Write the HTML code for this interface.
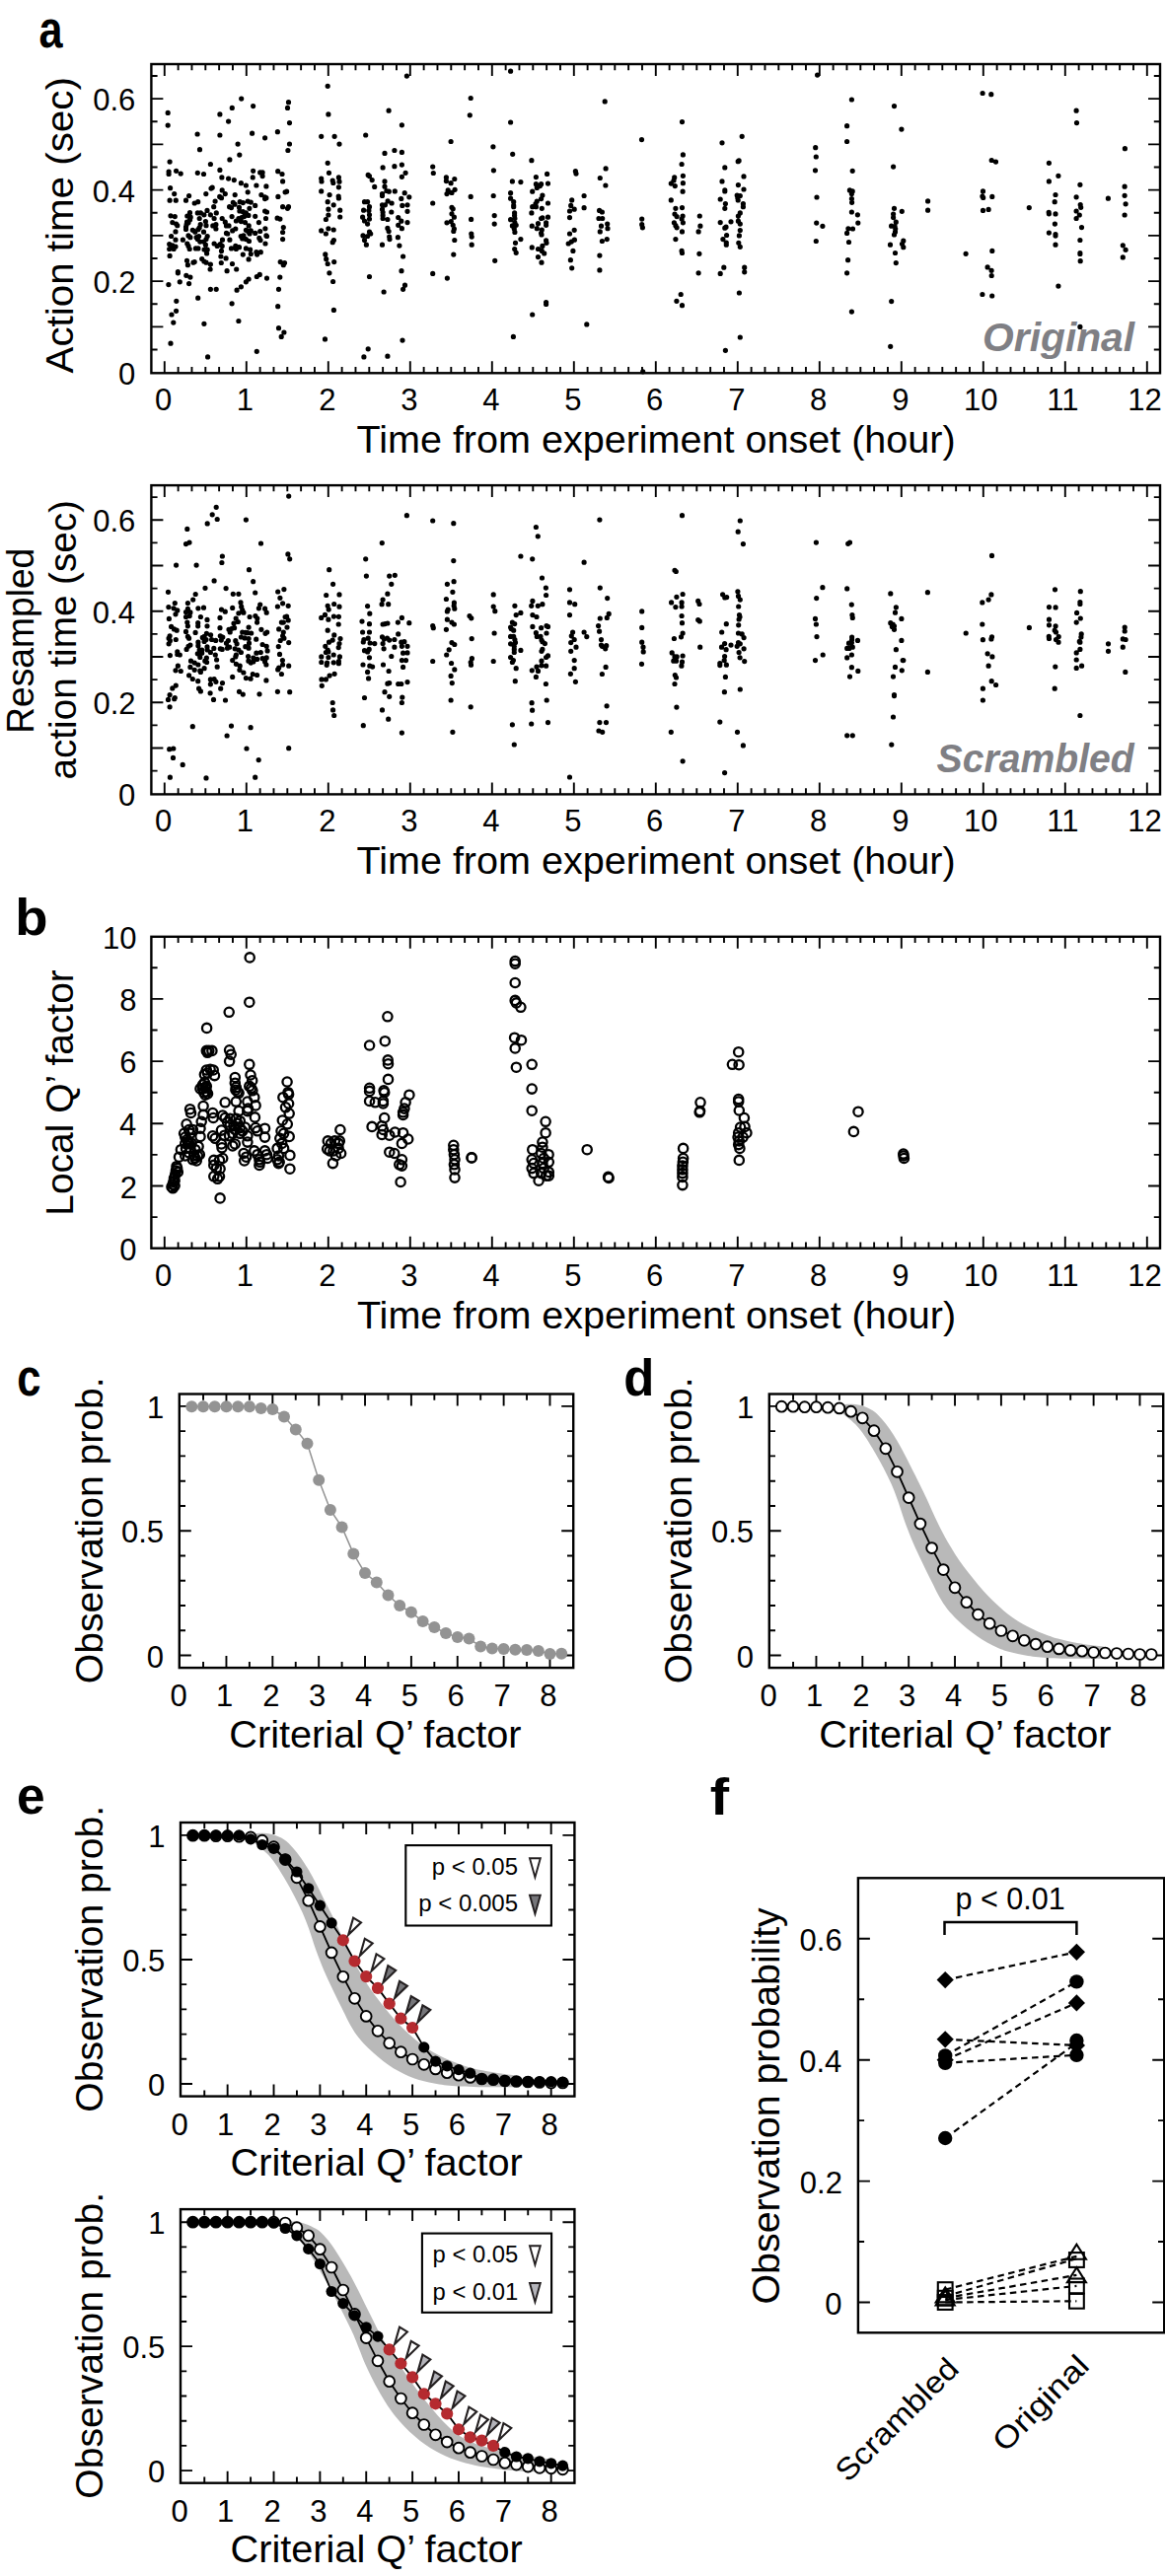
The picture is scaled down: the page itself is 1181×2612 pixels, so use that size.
<!DOCTYPE html><html><head><meta charset="utf-8"><style>html,body{margin:0;padding:0;background:#fff;}svg{display:block;font-family:"Liberation Sans",sans-serif;}</style></head><body>
<svg width="1181" height="2612" viewBox="0 0 1181 2612">
<rect width="1181" height="2612" fill="#fff"/>
<text transform="translate(39.6,48.3) scale(0.8368,1)" font-size="51.6" font-weight="bold" font-style="normal" fill="#000">a</text>
<rect x="153.4" y="65" width="1022.6" height="313.3" fill="none" stroke="#000" stroke-width="2.4"/>
<path d="M153.4 354.48h6.2M1176 354.48h-6.2M153.4 331.35h12M1176 331.35h-12M153.4 308.23h6.2M1176 308.23h-6.2M153.4 285.1h12M1176 285.1h-12M153.4 261.98h6.2M1176 261.98h-6.2M153.4 238.85h12M1176 238.85h-12M153.4 215.72h6.2M1176 215.72h-6.2M153.4 192.6h12M1176 192.6h-12M153.4 169.48h6.2M1176 169.48h-6.2M153.4 146.35h12M1176 146.35h-12M153.4 123.22h6.2M1176 123.22h-6.2M153.4 100.1h12M1176 100.1h-12M153.4 76.98h6.2M1176 76.98h-6.2" fill="none" stroke="#000" stroke-width="1.9"/>
<path d="M166.8 378.3v-12M166.8 65v12M180.63 378.3v-6.2M180.63 65v6.2M194.47 378.3v-6.2M194.47 65v6.2M208.3 378.3v-6.2M208.3 65v6.2M222.13 378.3v-6.2M222.13 65v6.2M235.97 378.3v-6.2M235.97 65v6.2M249.8 378.3v-12M249.8 65v12M263.63 378.3v-6.2M263.63 65v6.2M277.47 378.3v-6.2M277.47 65v6.2M291.3 378.3v-6.2M291.3 65v6.2M305.13 378.3v-6.2M305.13 65v6.2M318.97 378.3v-6.2M318.97 65v6.2M332.8 378.3v-12M332.8 65v12M346.63 378.3v-6.2M346.63 65v6.2M360.47 378.3v-6.2M360.47 65v6.2M374.3 378.3v-6.2M374.3 65v6.2M388.13 378.3v-6.2M388.13 65v6.2M401.97 378.3v-6.2M401.97 65v6.2M415.8 378.3v-12M415.8 65v12M429.63 378.3v-6.2M429.63 65v6.2M443.47 378.3v-6.2M443.47 65v6.2M457.3 378.3v-6.2M457.3 65v6.2M471.13 378.3v-6.2M471.13 65v6.2M484.97 378.3v-6.2M484.97 65v6.2M498.8 378.3v-12M498.8 65v12M512.63 378.3v-6.2M512.63 65v6.2M526.47 378.3v-6.2M526.47 65v6.2M540.3 378.3v-6.2M540.3 65v6.2M554.13 378.3v-6.2M554.13 65v6.2M567.97 378.3v-6.2M567.97 65v6.2M581.8 378.3v-12M581.8 65v12M595.63 378.3v-6.2M595.63 65v6.2M609.47 378.3v-6.2M609.47 65v6.2M623.3 378.3v-6.2M623.3 65v6.2M637.13 378.3v-6.2M637.13 65v6.2M650.97 378.3v-6.2M650.97 65v6.2M664.8 378.3v-12M664.8 65v12M678.63 378.3v-6.2M678.63 65v6.2M692.47 378.3v-6.2M692.47 65v6.2M706.3 378.3v-6.2M706.3 65v6.2M720.13 378.3v-6.2M720.13 65v6.2M733.97 378.3v-6.2M733.97 65v6.2M747.8 378.3v-12M747.8 65v12M761.63 378.3v-6.2M761.63 65v6.2M775.47 378.3v-6.2M775.47 65v6.2M789.3 378.3v-6.2M789.3 65v6.2M803.13 378.3v-6.2M803.13 65v6.2M816.97 378.3v-6.2M816.97 65v6.2M830.8 378.3v-12M830.8 65v12M844.63 378.3v-6.2M844.63 65v6.2M858.47 378.3v-6.2M858.47 65v6.2M872.3 378.3v-6.2M872.3 65v6.2M886.13 378.3v-6.2M886.13 65v6.2M899.97 378.3v-6.2M899.97 65v6.2M913.8 378.3v-12M913.8 65v12M927.63 378.3v-6.2M927.63 65v6.2M941.47 378.3v-6.2M941.47 65v6.2M955.3 378.3v-6.2M955.3 65v6.2M969.13 378.3v-6.2M969.13 65v6.2M982.97 378.3v-6.2M982.97 65v6.2M996.8 378.3v-12M996.8 65v12M1010.63 378.3v-6.2M1010.63 65v6.2M1024.47 378.3v-6.2M1024.47 65v6.2M1038.3 378.3v-6.2M1038.3 65v6.2M1052.13 378.3v-6.2M1052.13 65v6.2M1065.97 378.3v-6.2M1065.97 65v6.2M1079.8 378.3v-12M1079.8 65v12M1093.63 378.3v-6.2M1093.63 65v6.2M1107.47 378.3v-6.2M1107.47 65v6.2M1121.3 378.3v-6.2M1121.3 65v6.2M1135.13 378.3v-6.2M1135.13 65v6.2M1148.97 378.3v-6.2M1148.97 65v6.2M1162.8 378.3v-12M1162.8 65v12" fill="none" stroke="#000" stroke-width="1.9"/>
<text transform="translate(119.88,389.6) scale(1.0000,1)" font-size="31" font-weight="normal" font-style="normal" fill="#000">0</text>
<text transform="translate(94.46,297.1) scale(1.0000,1)" font-size="31" font-weight="normal" font-style="normal" fill="#000">0.2</text>
<text transform="translate(93.84,204.6) scale(1.0000,1)" font-size="31" font-weight="normal" font-style="normal" fill="#000">0.4</text>
<text transform="translate(94.15,112.1) scale(1.0000,1)" font-size="31" font-weight="normal" font-style="normal" fill="#000">0.6</text>
<text transform="translate(157.12,416) scale(1.0000,1)" font-size="31" font-weight="normal" font-style="normal" fill="#000">0</text>
<text transform="translate(239.73,416) scale(1.0000,1)" font-size="31" font-weight="normal" font-style="normal" fill="#000">1</text>
<text transform="translate(323.2,416) scale(1.0000,1)" font-size="31" font-weight="normal" font-style="normal" fill="#000">2</text>
<text transform="translate(406.2,416) scale(1.0000,1)" font-size="31" font-weight="normal" font-style="normal" fill="#000">3</text>
<text transform="translate(489.35,416) scale(1.0000,1)" font-size="31" font-weight="normal" font-style="normal" fill="#000">4</text>
<text transform="translate(572.2,416) scale(1.0000,1)" font-size="31" font-weight="normal" font-style="normal" fill="#000">5</text>
<text transform="translate(655.04,416) scale(1.0000,1)" font-size="31" font-weight="normal" font-style="normal" fill="#000">6</text>
<text transform="translate(738.2,416) scale(1.0000,1)" font-size="31" font-weight="normal" font-style="normal" fill="#000">7</text>
<text transform="translate(821.12,416) scale(1.0000,1)" font-size="31" font-weight="normal" font-style="normal" fill="#000">8</text>
<text transform="translate(904.2,416) scale(1.0000,1)" font-size="31" font-weight="normal" font-style="normal" fill="#000">9</text>
<text transform="translate(976.97,416) scale(1.0000,1)" font-size="31" font-weight="normal" font-style="normal" fill="#000">10</text>
<text transform="translate(1061.29,416) scale(1.0000,1)" font-size="31" font-weight="normal" font-style="normal" fill="#000">11</text>
<text transform="translate(1143.21,416) scale(1.0000,1)" font-size="31" font-weight="normal" font-style="normal" fill="#000">12</text>
<text transform="translate(361.51,458.8) scale(1.0272,1)" font-size="38.5" font-weight="normal" font-style="normal" fill="#000">Time from experiment onset (hour)</text>
<text transform="translate(73.6,378.5) rotate(-90) scale(1.0481,1)" font-size="38.5" font-weight="normal" font-style="normal" fill="#000">Action time (sec)</text>
<text transform="translate(996.06,355.8) scale(0.9951,1)" font-size="41" font-weight="bold" font-style="italic" fill="#7f7f84">Original</text>
<rect x="153.4" y="492.1" width="1022.6" height="313.3" fill="none" stroke="#000" stroke-width="2.4"/>
<path d="M153.4 781.58h6.2M1176 781.58h-6.2M153.4 758.45h12M1176 758.45h-12M153.4 735.33h6.2M1176 735.33h-6.2M153.4 712.2h12M1176 712.2h-12M153.4 689.08h6.2M1176 689.08h-6.2M153.4 665.95h12M1176 665.95h-12M153.4 642.83h6.2M1176 642.83h-6.2M153.4 619.7h12M1176 619.7h-12M153.4 596.58h6.2M1176 596.58h-6.2M153.4 573.45h12M1176 573.45h-12M153.4 550.33h6.2M1176 550.33h-6.2M153.4 527.2h12M1176 527.2h-12M153.4 504.08h6.2M1176 504.08h-6.2" fill="none" stroke="#000" stroke-width="1.9"/>
<path d="M166.8 805.4v-12M166.8 492.1v12M180.63 805.4v-6.2M180.63 492.1v6.2M194.47 805.4v-6.2M194.47 492.1v6.2M208.3 805.4v-6.2M208.3 492.1v6.2M222.13 805.4v-6.2M222.13 492.1v6.2M235.97 805.4v-6.2M235.97 492.1v6.2M249.8 805.4v-12M249.8 492.1v12M263.63 805.4v-6.2M263.63 492.1v6.2M277.47 805.4v-6.2M277.47 492.1v6.2M291.3 805.4v-6.2M291.3 492.1v6.2M305.13 805.4v-6.2M305.13 492.1v6.2M318.97 805.4v-6.2M318.97 492.1v6.2M332.8 805.4v-12M332.8 492.1v12M346.63 805.4v-6.2M346.63 492.1v6.2M360.47 805.4v-6.2M360.47 492.1v6.2M374.3 805.4v-6.2M374.3 492.1v6.2M388.13 805.4v-6.2M388.13 492.1v6.2M401.97 805.4v-6.2M401.97 492.1v6.2M415.8 805.4v-12M415.8 492.1v12M429.63 805.4v-6.2M429.63 492.1v6.2M443.47 805.4v-6.2M443.47 492.1v6.2M457.3 805.4v-6.2M457.3 492.1v6.2M471.13 805.4v-6.2M471.13 492.1v6.2M484.97 805.4v-6.2M484.97 492.1v6.2M498.8 805.4v-12M498.8 492.1v12M512.63 805.4v-6.2M512.63 492.1v6.2M526.47 805.4v-6.2M526.47 492.1v6.2M540.3 805.4v-6.2M540.3 492.1v6.2M554.13 805.4v-6.2M554.13 492.1v6.2M567.97 805.4v-6.2M567.97 492.1v6.2M581.8 805.4v-12M581.8 492.1v12M595.63 805.4v-6.2M595.63 492.1v6.2M609.47 805.4v-6.2M609.47 492.1v6.2M623.3 805.4v-6.2M623.3 492.1v6.2M637.13 805.4v-6.2M637.13 492.1v6.2M650.97 805.4v-6.2M650.97 492.1v6.2M664.8 805.4v-12M664.8 492.1v12M678.63 805.4v-6.2M678.63 492.1v6.2M692.47 805.4v-6.2M692.47 492.1v6.2M706.3 805.4v-6.2M706.3 492.1v6.2M720.13 805.4v-6.2M720.13 492.1v6.2M733.97 805.4v-6.2M733.97 492.1v6.2M747.8 805.4v-12M747.8 492.1v12M761.63 805.4v-6.2M761.63 492.1v6.2M775.47 805.4v-6.2M775.47 492.1v6.2M789.3 805.4v-6.2M789.3 492.1v6.2M803.13 805.4v-6.2M803.13 492.1v6.2M816.97 805.4v-6.2M816.97 492.1v6.2M830.8 805.4v-12M830.8 492.1v12M844.63 805.4v-6.2M844.63 492.1v6.2M858.47 805.4v-6.2M858.47 492.1v6.2M872.3 805.4v-6.2M872.3 492.1v6.2M886.13 805.4v-6.2M886.13 492.1v6.2M899.97 805.4v-6.2M899.97 492.1v6.2M913.8 805.4v-12M913.8 492.1v12M927.63 805.4v-6.2M927.63 492.1v6.2M941.47 805.4v-6.2M941.47 492.1v6.2M955.3 805.4v-6.2M955.3 492.1v6.2M969.13 805.4v-6.2M969.13 492.1v6.2M982.97 805.4v-6.2M982.97 492.1v6.2M996.8 805.4v-12M996.8 492.1v12M1010.63 805.4v-6.2M1010.63 492.1v6.2M1024.47 805.4v-6.2M1024.47 492.1v6.2M1038.3 805.4v-6.2M1038.3 492.1v6.2M1052.13 805.4v-6.2M1052.13 492.1v6.2M1065.97 805.4v-6.2M1065.97 492.1v6.2M1079.8 805.4v-12M1079.8 492.1v12M1093.63 805.4v-6.2M1093.63 492.1v6.2M1107.47 805.4v-6.2M1107.47 492.1v6.2M1121.3 805.4v-6.2M1121.3 492.1v6.2M1135.13 805.4v-6.2M1135.13 492.1v6.2M1148.97 805.4v-6.2M1148.97 492.1v6.2M1162.8 805.4v-12M1162.8 492.1v12" fill="none" stroke="#000" stroke-width="1.9"/>
<text transform="translate(119.88,816.7) scale(1.0000,1)" font-size="31" font-weight="normal" font-style="normal" fill="#000">0</text>
<text transform="translate(94.46,724.2) scale(1.0000,1)" font-size="31" font-weight="normal" font-style="normal" fill="#000">0.2</text>
<text transform="translate(93.84,631.7) scale(1.0000,1)" font-size="31" font-weight="normal" font-style="normal" fill="#000">0.4</text>
<text transform="translate(94.15,539.2) scale(1.0000,1)" font-size="31" font-weight="normal" font-style="normal" fill="#000">0.6</text>
<text transform="translate(157.12,843.1) scale(1.0000,1)" font-size="31" font-weight="normal" font-style="normal" fill="#000">0</text>
<text transform="translate(239.73,843.1) scale(1.0000,1)" font-size="31" font-weight="normal" font-style="normal" fill="#000">1</text>
<text transform="translate(323.2,843.1) scale(1.0000,1)" font-size="31" font-weight="normal" font-style="normal" fill="#000">2</text>
<text transform="translate(406.2,843.1) scale(1.0000,1)" font-size="31" font-weight="normal" font-style="normal" fill="#000">3</text>
<text transform="translate(489.35,843.1) scale(1.0000,1)" font-size="31" font-weight="normal" font-style="normal" fill="#000">4</text>
<text transform="translate(572.2,843.1) scale(1.0000,1)" font-size="31" font-weight="normal" font-style="normal" fill="#000">5</text>
<text transform="translate(655.04,843.1) scale(1.0000,1)" font-size="31" font-weight="normal" font-style="normal" fill="#000">6</text>
<text transform="translate(738.2,843.1) scale(1.0000,1)" font-size="31" font-weight="normal" font-style="normal" fill="#000">7</text>
<text transform="translate(821.12,843.1) scale(1.0000,1)" font-size="31" font-weight="normal" font-style="normal" fill="#000">8</text>
<text transform="translate(904.2,843.1) scale(1.0000,1)" font-size="31" font-weight="normal" font-style="normal" fill="#000">9</text>
<text transform="translate(976.97,843.1) scale(1.0000,1)" font-size="31" font-weight="normal" font-style="normal" fill="#000">10</text>
<text transform="translate(1061.29,843.1) scale(1.0000,1)" font-size="31" font-weight="normal" font-style="normal" fill="#000">11</text>
<text transform="translate(1143.21,843.1) scale(1.0000,1)" font-size="31" font-weight="normal" font-style="normal" fill="#000">12</text>
<text transform="translate(361.51,885.9) scale(1.0272,1)" font-size="38.5" font-weight="normal" font-style="normal" fill="#000">Time from experiment onset (hour)</text>
<text transform="translate(34.2,743.78) rotate(-90) scale(0.9660,1)" font-size="38.5" font-weight="normal" font-style="normal" fill="#000">Resampled</text>
<text transform="translate(76.6,790.45) rotate(-90) scale(1.0038,1)" font-size="38.5" font-weight="normal" font-style="normal" fill="#000">action time (sec)</text>
<text transform="translate(949.61,783.3) scale(0.9551,1)" font-size="41" font-weight="bold" font-style="italic" fill="#7f7f84">Scrambled</text>
<text transform="translate(15.36,947.5) scale(1.0615,1)" font-size="51.3" font-weight="bold" font-style="normal" fill="#000">b</text>
<rect x="153.4" y="949.8" width="1022.6" height="315.9" fill="none" stroke="#000" stroke-width="2.4"/>
<path d="M153.4 1234.1h6.2M1176 1234.1h-6.2M153.4 1202.5h12M1176 1202.5h-12M153.4 1170.9h6.2M1176 1170.9h-6.2M153.4 1139.3h12M1176 1139.3h-12M153.4 1107.7h6.2M1176 1107.7h-6.2M153.4 1076.1h12M1176 1076.1h-12M153.4 1044.5h6.2M1176 1044.5h-6.2M153.4 1012.9h12M1176 1012.9h-12M153.4 981.3h6.2M1176 981.3h-6.2" fill="none" stroke="#000" stroke-width="1.9"/>
<path d="M166.8 1265.7v-12M166.8 949.8v12M180.63 1265.7v-6.2M180.63 949.8v6.2M194.47 1265.7v-6.2M194.47 949.8v6.2M208.3 1265.7v-6.2M208.3 949.8v6.2M222.13 1265.7v-6.2M222.13 949.8v6.2M235.97 1265.7v-6.2M235.97 949.8v6.2M249.8 1265.7v-12M249.8 949.8v12M263.63 1265.7v-6.2M263.63 949.8v6.2M277.47 1265.7v-6.2M277.47 949.8v6.2M291.3 1265.7v-6.2M291.3 949.8v6.2M305.13 1265.7v-6.2M305.13 949.8v6.2M318.97 1265.7v-6.2M318.97 949.8v6.2M332.8 1265.7v-12M332.8 949.8v12M346.63 1265.7v-6.2M346.63 949.8v6.2M360.47 1265.7v-6.2M360.47 949.8v6.2M374.3 1265.7v-6.2M374.3 949.8v6.2M388.13 1265.7v-6.2M388.13 949.8v6.2M401.97 1265.7v-6.2M401.97 949.8v6.2M415.8 1265.7v-12M415.8 949.8v12M429.63 1265.7v-6.2M429.63 949.8v6.2M443.47 1265.7v-6.2M443.47 949.8v6.2M457.3 1265.7v-6.2M457.3 949.8v6.2M471.13 1265.7v-6.2M471.13 949.8v6.2M484.97 1265.7v-6.2M484.97 949.8v6.2M498.8 1265.7v-12M498.8 949.8v12M512.63 1265.7v-6.2M512.63 949.8v6.2M526.47 1265.7v-6.2M526.47 949.8v6.2M540.3 1265.7v-6.2M540.3 949.8v6.2M554.13 1265.7v-6.2M554.13 949.8v6.2M567.97 1265.7v-6.2M567.97 949.8v6.2M581.8 1265.7v-12M581.8 949.8v12M595.63 1265.7v-6.2M595.63 949.8v6.2M609.47 1265.7v-6.2M609.47 949.8v6.2M623.3 1265.7v-6.2M623.3 949.8v6.2M637.13 1265.7v-6.2M637.13 949.8v6.2M650.97 1265.7v-6.2M650.97 949.8v6.2M664.8 1265.7v-12M664.8 949.8v12M678.63 1265.7v-6.2M678.63 949.8v6.2M692.47 1265.7v-6.2M692.47 949.8v6.2M706.3 1265.7v-6.2M706.3 949.8v6.2M720.13 1265.7v-6.2M720.13 949.8v6.2M733.97 1265.7v-6.2M733.97 949.8v6.2M747.8 1265.7v-12M747.8 949.8v12M761.63 1265.7v-6.2M761.63 949.8v6.2M775.47 1265.7v-6.2M775.47 949.8v6.2M789.3 1265.7v-6.2M789.3 949.8v6.2M803.13 1265.7v-6.2M803.13 949.8v6.2M816.97 1265.7v-6.2M816.97 949.8v6.2M830.8 1265.7v-12M830.8 949.8v12M844.63 1265.7v-6.2M844.63 949.8v6.2M858.47 1265.7v-6.2M858.47 949.8v6.2M872.3 1265.7v-6.2M872.3 949.8v6.2M886.13 1265.7v-6.2M886.13 949.8v6.2M899.97 1265.7v-6.2M899.97 949.8v6.2M913.8 1265.7v-12M913.8 949.8v12M927.63 1265.7v-6.2M927.63 949.8v6.2M941.47 1265.7v-6.2M941.47 949.8v6.2M955.3 1265.7v-6.2M955.3 949.8v6.2M969.13 1265.7v-6.2M969.13 949.8v6.2M982.97 1265.7v-6.2M982.97 949.8v6.2M996.8 1265.7v-12M996.8 949.8v12M1010.63 1265.7v-6.2M1010.63 949.8v6.2M1024.47 1265.7v-6.2M1024.47 949.8v6.2M1038.3 1265.7v-6.2M1038.3 949.8v6.2M1052.13 1265.7v-6.2M1052.13 949.8v6.2M1065.97 1265.7v-6.2M1065.97 949.8v6.2M1079.8 1265.7v-12M1079.8 949.8v12M1093.63 1265.7v-6.2M1093.63 949.8v6.2M1107.47 1265.7v-6.2M1107.47 949.8v6.2M1121.3 1265.7v-6.2M1121.3 949.8v6.2M1135.13 1265.7v-6.2M1135.13 949.8v6.2M1148.97 1265.7v-6.2M1148.97 949.8v6.2M1162.8 1265.7v-12M1162.8 949.8v12" fill="none" stroke="#000" stroke-width="1.9"/>
<text transform="translate(121.18,1277.7) scale(1.0000,1)" font-size="31" font-weight="normal" font-style="normal" fill="#000">0</text>
<text transform="translate(121.65,1214.5) scale(1.0000,1)" font-size="31" font-weight="normal" font-style="normal" fill="#000">2</text>
<text transform="translate(121.03,1151.3) scale(1.0000,1)" font-size="31" font-weight="normal" font-style="normal" fill="#000">4</text>
<text transform="translate(121.34,1088.1) scale(1.0000,1)" font-size="31" font-weight="normal" font-style="normal" fill="#000">6</text>
<text transform="translate(121.34,1024.9) scale(1.0000,1)" font-size="31" font-weight="normal" font-style="normal" fill="#000">8</text>
<text transform="translate(103.98,961.7) scale(1.0000,1)" font-size="31" font-weight="normal" font-style="normal" fill="#000">10</text>
<text transform="translate(157.12,1303.5) scale(1.0000,1)" font-size="31" font-weight="normal" font-style="normal" fill="#000">0</text>
<text transform="translate(239.73,1303.5) scale(1.0000,1)" font-size="31" font-weight="normal" font-style="normal" fill="#000">1</text>
<text transform="translate(323.2,1303.5) scale(1.0000,1)" font-size="31" font-weight="normal" font-style="normal" fill="#000">2</text>
<text transform="translate(406.2,1303.5) scale(1.0000,1)" font-size="31" font-weight="normal" font-style="normal" fill="#000">3</text>
<text transform="translate(489.35,1303.5) scale(1.0000,1)" font-size="31" font-weight="normal" font-style="normal" fill="#000">4</text>
<text transform="translate(572.2,1303.5) scale(1.0000,1)" font-size="31" font-weight="normal" font-style="normal" fill="#000">5</text>
<text transform="translate(655.04,1303.5) scale(1.0000,1)" font-size="31" font-weight="normal" font-style="normal" fill="#000">6</text>
<text transform="translate(738.2,1303.5) scale(1.0000,1)" font-size="31" font-weight="normal" font-style="normal" fill="#000">7</text>
<text transform="translate(821.12,1303.5) scale(1.0000,1)" font-size="31" font-weight="normal" font-style="normal" fill="#000">8</text>
<text transform="translate(904.2,1303.5) scale(1.0000,1)" font-size="31" font-weight="normal" font-style="normal" fill="#000">9</text>
<text transform="translate(976.97,1303.5) scale(1.0000,1)" font-size="31" font-weight="normal" font-style="normal" fill="#000">10</text>
<text transform="translate(1061.29,1303.5) scale(1.0000,1)" font-size="31" font-weight="normal" font-style="normal" fill="#000">11</text>
<text transform="translate(1143.21,1303.5) scale(1.0000,1)" font-size="31" font-weight="normal" font-style="normal" fill="#000">12</text>
<text transform="translate(361.91,1346.9) scale(1.0272,1)" font-size="38.5" font-weight="normal" font-style="normal" fill="#000">Time from experiment onset (hour)</text>
<text transform="translate(73.8,1232.71) rotate(-90) scale(1.0110,1)" font-size="38.5" font-weight="normal" font-style="normal" fill="#000">Local Q’ factor</text>
<text transform="translate(17.36,1415.3) scale(0.8431,1)" font-size="51.6" font-weight="bold" font-style="normal" fill="#000">c</text>
<rect x="181.8" y="1413.5" width="399.4" height="277.6" fill="none" stroke="#000" stroke-width="2.4"/>
<path d="M181.8 1678.5h12M581.2 1678.5h-12M181.8 1653.24h6.2M581.2 1653.24h-6.2M181.8 1627.98h6.2M581.2 1627.98h-6.2M181.8 1602.72h6.2M581.2 1602.72h-6.2M181.8 1577.46h6.2M581.2 1577.46h-6.2M181.8 1552.2h12M581.2 1552.2h-12M181.8 1526.94h6.2M581.2 1526.94h-6.2M181.8 1501.68h6.2M581.2 1501.68h-6.2M181.8 1476.42h6.2M581.2 1476.42h-6.2M181.8 1451.16h6.2M581.2 1451.16h-6.2M181.8 1425.9h12M581.2 1425.9h-12" fill="none" stroke="#000" stroke-width="1.9"/>
<path d="M206.03 1691.1v-6.2M206.03 1413.5v6.2M229.46 1691.1v-12M229.46 1413.5v12M252.89 1691.1v-6.2M252.89 1413.5v6.2M276.32 1691.1v-12M276.32 1413.5v12M299.75 1691.1v-6.2M299.75 1413.5v6.2M323.18 1691.1v-12M323.18 1413.5v12M346.61 1691.1v-6.2M346.61 1413.5v6.2M370.04 1691.1v-12M370.04 1413.5v12M393.47 1691.1v-6.2M393.47 1413.5v6.2M416.9 1691.1v-12M416.9 1413.5v12M440.33 1691.1v-6.2M440.33 1413.5v6.2M463.76 1691.1v-12M463.76 1413.5v12M487.19 1691.1v-6.2M487.19 1413.5v6.2M510.62 1691.1v-12M510.62 1413.5v12M534.05 1691.1v-6.2M534.05 1413.5v6.2M557.48 1691.1v-12M557.48 1413.5v12" fill="none" stroke="#000" stroke-width="1.9"/>
<text transform="translate(148.68,1690.5) scale(1.0000,1)" font-size="31" font-weight="normal" font-style="normal" fill="#000">0</text>
<text transform="translate(122.95,1564.2) scale(1.0000,1)" font-size="31" font-weight="normal" font-style="normal" fill="#000">0.5</text>
<text transform="translate(148.99,1437.9) scale(1.0000,1)" font-size="31" font-weight="normal" font-style="normal" fill="#000">1</text>
<text transform="translate(172.42,1730) scale(1.0000,1)" font-size="31" font-weight="normal" font-style="normal" fill="#000">0</text>
<text transform="translate(218.89,1730) scale(1.0000,1)" font-size="31" font-weight="normal" font-style="normal" fill="#000">1</text>
<text transform="translate(266.22,1730) scale(1.0000,1)" font-size="31" font-weight="normal" font-style="normal" fill="#000">2</text>
<text transform="translate(313.08,1730) scale(1.0000,1)" font-size="31" font-weight="normal" font-style="normal" fill="#000">3</text>
<text transform="translate(360.09,1730) scale(1.0000,1)" font-size="31" font-weight="normal" font-style="normal" fill="#000">4</text>
<text transform="translate(406.8,1730) scale(1.0000,1)" font-size="31" font-weight="normal" font-style="normal" fill="#000">5</text>
<text transform="translate(453.5,1730) scale(1.0000,1)" font-size="31" font-weight="normal" font-style="normal" fill="#000">6</text>
<text transform="translate(500.52,1730) scale(1.0000,1)" font-size="31" font-weight="normal" font-style="normal" fill="#000">7</text>
<text transform="translate(547.3,1730) scale(1.0000,1)" font-size="31" font-weight="normal" font-style="normal" fill="#000">8</text>
<text transform="translate(232.31,1771.7) scale(1.0312,1)" font-size="38.5" font-weight="normal" font-style="normal" fill="#000">Criterial Q’ factor</text>
<text transform="translate(104.2,1707.16) rotate(-90) scale(1.0163,1)" font-size="38.5" font-weight="normal" font-style="normal" fill="#000">Observation prob.</text>
<text transform="translate(632.16,1414.6) scale(0.9863,1)" font-size="51.6" font-weight="bold" font-style="normal" fill="#000">d</text>
<rect x="779.8" y="1413.5" width="399.4" height="277.6" fill="none" stroke="#000" stroke-width="2.4"/>
<path d="M779.8 1678.5h12M1179.2 1678.5h-12M779.8 1653.24h6.2M1179.2 1653.24h-6.2M779.8 1627.98h6.2M1179.2 1627.98h-6.2M779.8 1602.72h6.2M1179.2 1602.72h-6.2M779.8 1577.46h6.2M1179.2 1577.46h-6.2M779.8 1552.2h12M1179.2 1552.2h-12M779.8 1526.94h6.2M1179.2 1526.94h-6.2M779.8 1501.68h6.2M1179.2 1501.68h-6.2M779.8 1476.42h6.2M1179.2 1476.42h-6.2M779.8 1451.16h6.2M1179.2 1451.16h-6.2M779.8 1425.9h12M1179.2 1425.9h-12" fill="none" stroke="#000" stroke-width="1.9"/>
<path d="M804.03 1691.1v-6.2M804.03 1413.5v6.2M827.46 1691.1v-12M827.46 1413.5v12M850.89 1691.1v-6.2M850.89 1413.5v6.2M874.32 1691.1v-12M874.32 1413.5v12M897.75 1691.1v-6.2M897.75 1413.5v6.2M921.18 1691.1v-12M921.18 1413.5v12M944.61 1691.1v-6.2M944.61 1413.5v6.2M968.04 1691.1v-12M968.04 1413.5v12M991.47 1691.1v-6.2M991.47 1413.5v6.2M1014.9 1691.1v-12M1014.9 1413.5v12M1038.33 1691.1v-6.2M1038.33 1413.5v6.2M1061.76 1691.1v-12M1061.76 1413.5v12M1085.19 1691.1v-6.2M1085.19 1413.5v6.2M1108.62 1691.1v-12M1108.62 1413.5v12M1132.05 1691.1v-6.2M1132.05 1413.5v6.2M1155.48 1691.1v-12M1155.48 1413.5v12" fill="none" stroke="#000" stroke-width="1.9"/>
<text transform="translate(746.68,1690.5) scale(1.0000,1)" font-size="31" font-weight="normal" font-style="normal" fill="#000">0</text>
<text transform="translate(720.95,1564.2) scale(1.0000,1)" font-size="31" font-weight="normal" font-style="normal" fill="#000">0.5</text>
<text transform="translate(746.99,1437.9) scale(1.0000,1)" font-size="31" font-weight="normal" font-style="normal" fill="#000">1</text>
<text transform="translate(770.42,1730) scale(1.0000,1)" font-size="31" font-weight="normal" font-style="normal" fill="#000">0</text>
<text transform="translate(816.89,1730) scale(1.0000,1)" font-size="31" font-weight="normal" font-style="normal" fill="#000">1</text>
<text transform="translate(864.22,1730) scale(1.0000,1)" font-size="31" font-weight="normal" font-style="normal" fill="#000">2</text>
<text transform="translate(911.08,1730) scale(1.0000,1)" font-size="31" font-weight="normal" font-style="normal" fill="#000">3</text>
<text transform="translate(958.09,1730) scale(1.0000,1)" font-size="31" font-weight="normal" font-style="normal" fill="#000">4</text>
<text transform="translate(1004.8,1730) scale(1.0000,1)" font-size="31" font-weight="normal" font-style="normal" fill="#000">5</text>
<text transform="translate(1051.5,1730) scale(1.0000,1)" font-size="31" font-weight="normal" font-style="normal" fill="#000">6</text>
<text transform="translate(1098.52,1730) scale(1.0000,1)" font-size="31" font-weight="normal" font-style="normal" fill="#000">7</text>
<text transform="translate(1145.3,1730) scale(1.0000,1)" font-size="31" font-weight="normal" font-style="normal" fill="#000">8</text>
<text transform="translate(830.31,1771.7) scale(1.0312,1)" font-size="38.5" font-weight="normal" font-style="normal" fill="#000">Criterial Q’ factor</text>
<text transform="translate(700.6,1707.16) rotate(-90) scale(1.0163,1)" font-size="38.5" font-weight="normal" font-style="normal" fill="#000">Observation prob.</text>
<text transform="translate(17.04,1839.1) scale(0.9973,1)" font-size="51.6" font-weight="bold" font-style="normal" fill="#000">e</text>
<rect x="183" y="1848" width="399.4" height="277.6" fill="none" stroke="#000" stroke-width="2.4"/>
<path d="M183 2113h12M582.4 2113h-12M183 2087.79h6.2M582.4 2087.79h-6.2M183 2062.58h6.2M582.4 2062.58h-6.2M183 2037.37h6.2M582.4 2037.37h-6.2M183 2012.16h6.2M582.4 2012.16h-6.2M183 1986.95h12M582.4 1986.95h-12M183 1961.74h6.2M582.4 1961.74h-6.2M183 1936.53h6.2M582.4 1936.53h-6.2M183 1911.32h6.2M582.4 1911.32h-6.2M183 1886.11h6.2M582.4 1886.11h-6.2M183 1860.9h12M582.4 1860.9h-12" fill="none" stroke="#000" stroke-width="1.9"/>
<path d="M207.23 2125.6v-6.2M207.23 1848v6.2M230.66 2125.6v-12M230.66 1848v12M254.09 2125.6v-6.2M254.09 1848v6.2M277.52 2125.6v-12M277.52 1848v12M300.95 2125.6v-6.2M300.95 1848v6.2M324.38 2125.6v-12M324.38 1848v12M347.81 2125.6v-6.2M347.81 1848v6.2M371.24 2125.6v-12M371.24 1848v12M394.67 2125.6v-6.2M394.67 1848v6.2M418.1 2125.6v-12M418.1 1848v12M441.53 2125.6v-6.2M441.53 1848v6.2M464.96 2125.6v-12M464.96 1848v12M488.39 2125.6v-6.2M488.39 1848v6.2M511.82 2125.6v-12M511.82 1848v12M535.25 2125.6v-6.2M535.25 1848v6.2M558.68 2125.6v-12M558.68 1848v12" fill="none" stroke="#000" stroke-width="1.9"/>
<text transform="translate(149.88,2125) scale(1.0000,1)" font-size="31" font-weight="normal" font-style="normal" fill="#000">0</text>
<text transform="translate(124.15,1998.95) scale(1.0000,1)" font-size="31" font-weight="normal" font-style="normal" fill="#000">0.5</text>
<text transform="translate(150.19,1872.9) scale(1.0000,1)" font-size="31" font-weight="normal" font-style="normal" fill="#000">1</text>
<text transform="translate(173.62,2164.5) scale(1.0000,1)" font-size="31" font-weight="normal" font-style="normal" fill="#000">0</text>
<text transform="translate(220.09,2164.5) scale(1.0000,1)" font-size="31" font-weight="normal" font-style="normal" fill="#000">1</text>
<text transform="translate(267.42,2164.5) scale(1.0000,1)" font-size="31" font-weight="normal" font-style="normal" fill="#000">2</text>
<text transform="translate(314.28,2164.5) scale(1.0000,1)" font-size="31" font-weight="normal" font-style="normal" fill="#000">3</text>
<text transform="translate(361.29,2164.5) scale(1.0000,1)" font-size="31" font-weight="normal" font-style="normal" fill="#000">4</text>
<text transform="translate(408,2164.5) scale(1.0000,1)" font-size="31" font-weight="normal" font-style="normal" fill="#000">5</text>
<text transform="translate(454.7,2164.5) scale(1.0000,1)" font-size="31" font-weight="normal" font-style="normal" fill="#000">6</text>
<text transform="translate(501.72,2164.5) scale(1.0000,1)" font-size="31" font-weight="normal" font-style="normal" fill="#000">7</text>
<text transform="translate(548.5,2164.5) scale(1.0000,1)" font-size="31" font-weight="normal" font-style="normal" fill="#000">8</text>
<text transform="translate(233.51,2206.2) scale(1.0312,1)" font-size="38.5" font-weight="normal" font-style="normal" fill="#000">Criterial Q’ factor</text>
<text transform="translate(103.8,2141.66) rotate(-90) scale(1.0163,1)" font-size="38.5" font-weight="normal" font-style="normal" fill="#000">Observation prob.</text>
<rect x="183" y="2240.1" width="399.4" height="277.6" fill="none" stroke="#000" stroke-width="2.4"/>
<path d="M183 2505.1h12M582.4 2505.1h-12M183 2479.91h6.2M582.4 2479.91h-6.2M183 2454.72h6.2M582.4 2454.72h-6.2M183 2429.53h6.2M582.4 2429.53h-6.2M183 2404.34h6.2M582.4 2404.34h-6.2M183 2379.15h12M582.4 2379.15h-12M183 2353.96h6.2M582.4 2353.96h-6.2M183 2328.77h6.2M582.4 2328.77h-6.2M183 2303.58h6.2M582.4 2303.58h-6.2M183 2278.39h6.2M582.4 2278.39h-6.2M183 2253.2h12M582.4 2253.2h-12" fill="none" stroke="#000" stroke-width="1.9"/>
<path d="M207.23 2517.7v-6.2M207.23 2240.1v6.2M230.66 2517.7v-12M230.66 2240.1v12M254.09 2517.7v-6.2M254.09 2240.1v6.2M277.52 2517.7v-12M277.52 2240.1v12M300.95 2517.7v-6.2M300.95 2240.1v6.2M324.38 2517.7v-12M324.38 2240.1v12M347.81 2517.7v-6.2M347.81 2240.1v6.2M371.24 2517.7v-12M371.24 2240.1v12M394.67 2517.7v-6.2M394.67 2240.1v6.2M418.1 2517.7v-12M418.1 2240.1v12M441.53 2517.7v-6.2M441.53 2240.1v6.2M464.96 2517.7v-12M464.96 2240.1v12M488.39 2517.7v-6.2M488.39 2240.1v6.2M511.82 2517.7v-12M511.82 2240.1v12M535.25 2517.7v-6.2M535.25 2240.1v6.2M558.68 2517.7v-12M558.68 2240.1v12" fill="none" stroke="#000" stroke-width="1.9"/>
<text transform="translate(149.88,2517.1) scale(1.0000,1)" font-size="31" font-weight="normal" font-style="normal" fill="#000">0</text>
<text transform="translate(124.15,2391.15) scale(1.0000,1)" font-size="31" font-weight="normal" font-style="normal" fill="#000">0.5</text>
<text transform="translate(150.19,2265.2) scale(1.0000,1)" font-size="31" font-weight="normal" font-style="normal" fill="#000">1</text>
<text transform="translate(173.62,2556.6) scale(1.0000,1)" font-size="31" font-weight="normal" font-style="normal" fill="#000">0</text>
<text transform="translate(220.09,2556.6) scale(1.0000,1)" font-size="31" font-weight="normal" font-style="normal" fill="#000">1</text>
<text transform="translate(267.42,2556.6) scale(1.0000,1)" font-size="31" font-weight="normal" font-style="normal" fill="#000">2</text>
<text transform="translate(314.28,2556.6) scale(1.0000,1)" font-size="31" font-weight="normal" font-style="normal" fill="#000">3</text>
<text transform="translate(361.29,2556.6) scale(1.0000,1)" font-size="31" font-weight="normal" font-style="normal" fill="#000">4</text>
<text transform="translate(408,2556.6) scale(1.0000,1)" font-size="31" font-weight="normal" font-style="normal" fill="#000">5</text>
<text transform="translate(454.7,2556.6) scale(1.0000,1)" font-size="31" font-weight="normal" font-style="normal" fill="#000">6</text>
<text transform="translate(501.72,2556.6) scale(1.0000,1)" font-size="31" font-weight="normal" font-style="normal" fill="#000">7</text>
<text transform="translate(548.5,2556.6) scale(1.0000,1)" font-size="31" font-weight="normal" font-style="normal" fill="#000">8</text>
<text transform="translate(233.51,2598.3) scale(1.0312,1)" font-size="38.5" font-weight="normal" font-style="normal" fill="#000">Criterial Q’ factor</text>
<text transform="translate(104.2,2533.76) rotate(-90) scale(1.0163,1)" font-size="38.5" font-weight="normal" font-style="normal" fill="#000">Observation prob.</text>
<text transform="translate(719.73,1840.2) scale(1.1265,1)" font-size="51.6" font-weight="bold" font-style="normal" fill="#000">f</text>
<path d="M244.7 100.1h0M256.6 107.6h0M235.3 109.4h0M170.2 114.4h0M222.9 115.9h0M231.6 123.1h0M170.2 127.1h0M281.4 133.7h0M200.1 136.0h0M222.9 137.0h0M255.6 135.2h0M268.6 139.8h0M241.1 146.1h0M202.5 151.7h0M242.8 157.1h0M232.9 161.9h0M172.1 164.1h0M213.4 166.5h0M222.9 172.4h0M178.6 173.3h0M256.6 173.3h0M171.1 174.0h0M171.1 176.5h0M183.2 176.1h0M200.3 175.3h0M206.5 176.5h0M263.7 174.9h0M266.1 174.9h0M266.1 178.6h0M281.7 173.7h0M286.0 176.5h0M224.9 179.9h0M256.2 179.9h0M231.6 181.1h0M237.3 182.6h0M286.6 183.9h0M244.4 185.7h0M249.4 188.0h0M259.9 188.0h0M269.9 188.9h0M172.6 190.7h0M214.0 191.1h0M215.2 190.2h0M225.2 192.9h0M251.2 194.8h0M289.1 194.8h0M176.7 196.6h0M208.8 196.6h0M228.3 196.6h0M238.2 197.6h0M191.6 198.5h0M264.9 197.6h0M222.7 199.4h0M224.5 200.7h0M281.9 199.4h0M268.6 199.8h0M269.9 200.7h0M172.1 203.2h0M178.3 203.2h0M188.5 203.2h0M268.6 201.6h0M218.1 204.1h0M197.2 206.0h0M200.7 204.7h0M236.3 205.3h0M238.0 207.2h0M243.2 204.7h0M246.3 205.6h0M251.2 204.1h0M254.3 205.1h0M258.7 208.4h0M232.6 209.7h0M234.5 210.6h0M216.7 209.7h0M242.5 210.3h0M252.9 211.3h0M286.6 209.7h0M242.9 214.0h0M246.3 214.7h0M249.4 215.9h0M251.9 218.4h0M268.6 214.0h0M270.5 215.0h0M192.5 215.7h0M200.3 215.9h0M203.4 215.9h0M210.0 213.4h0M206.9 217.8h0M213.4 217.8h0M219.3 215.9h0M173.0 218.8h0M177.3 219.6h0M189.8 219.0h0M193.2 220.2h0M192.6 222.7h0M202.2 221.5h0M217.1 221.5h0M235.1 219.6h0M258.7 219.3h0M245.0 220.5h0M241.9 221.5h0M239.4 224.0h0M244.4 224.6h0M247.5 219.6h0M269.5 221.5h0M281.1 221.2h0M283.9 222.1h0M225.2 221.5h0M228.3 225.2h0M174.8 225.6h0M178.6 227.1h0M179.8 228.7h0M189.5 225.2h0M189.1 227.7h0M188.5 230.2h0M188.5 232.4h0M191.0 225.8h0M208.4 224.6h0M209.0 228.7h0M203.2 227.7h0M202.2 230.8h0M218.9 227.7h0M215.8 228.9h0M218.9 232.0h0M229.5 228.9h0M232.0 228.9h0M248.5 225.6h0M252.2 228.9h0M262.4 225.6h0M287.3 230.6h0M195.3 233.3h0M197.8 235.2h0M200.9 232.7h0M206.5 235.2h0M235.7 233.9h0M238.8 232.0h0M249.4 233.3h0M251.9 235.2h0M254.3 233.9h0M253.1 237.0h0M258.7 236.4h0M263.7 234.5h0M268.9 231.8h0M286.6 235.5h0M178.0 234.9h0M229.5 236.4h0M230.7 237.0h0M173.6 239.5h0M178.0 243.2h0M185.4 243.2h0M191.0 238.9h0M192.9 240.7h0M199.1 240.7h0M201.6 239.5h0M200.3 242.6h0M202.8 245.1h0M210.2 239.5h0M209.0 242.6h0M206.5 245.1h0M225.5 243.2h0M232.9 243.2h0M244.2 239.5h0M246.9 238.9h0M245.7 242.0h0M249.4 242.6h0M252.5 244.5h0M262.8 241.4h0M264.0 243.6h0M269.9 238.9h0M270.5 239.5h0M286.6 242.6h0M269.0 247.0h0M171.7 247.6h0M171.7 252.5h0M174.8 248.8h0M176.1 252.5h0M178.0 250.1h0M189.8 247.0h0M191.0 249.4h0M192.2 252.5h0M198.4 251.9h0M200.9 251.9h0M208.4 248.2h0M217.1 247.0h0M220.2 249.4h0M223.3 247.6h0M225.2 249.4h0M224.5 254.4h0M234.5 251.9h0M238.8 249.4h0M239.4 252.5h0M242.5 250.7h0M249.4 251.9h0M253.7 253.2h0M207.1 253.2h0M210.2 253.2h0M209.6 256.9h0M172.1 259.4h0M259.9 255.7h0M264.3 255.7h0M260.6 258.1h0M246.3 258.1h0M254.3 257.5h0M223.9 260.0h0M252.1 262.9h0M204.7 262.5h0M229.1 261.9h0M189.5 264.3h0M190.4 268.7h0M196.0 266.2h0M197.2 265.6h0M206.9 265.0h0M209.0 266.2h0M213.4 268.1h0M224.3 266.5h0M235.5 267.5h0M284.2 265.6h0M288.5 266.5h0M287.3 268.7h0M213.1 273.0h0M239.7 273.0h0M230.1 274.7h0M180.4 275.5h0M180.4 276.8h0M188.8 279.3h0M192.9 281.1h0M260.3 280.5h0M263.3 278.4h0M270.5 282.1h0M283.8 281.1h0M252.1 283.0h0M249.4 285.8h0M182.3 285.8h0M170.9 288.6h0M191.6 287.6h0M213.4 293.3h0M219.2 293.3h0M244.4 290.8h0M240.1 294.2h0M282.5 293.3h0M200.7 302.2h0M178.8 305.3h0M235.1 307.8h0M281.7 310.7h0M178.6 315.3h0M174.0 319.0h0M175.8 327.1h0M206.9 328.3h0M241.9 325.5h0M282.5 332.7h0M287.9 337.0h0M285.2 341.4h0M173.0 348.2h0M260.3 356.3h0M210.6 361.9h0M292.5 103.7h0M291.5 109.4h0M293.5 124.6h0M293.5 146.0h0M291.9 152.5h0M290.6 194.2h0M292.5 209.7h0M291.5 211.3h0M332.2 87.3h0M332.9 115.9h0M325.7 138.3h0M339.1 138.3h0M344.0 146.1h0M332.2 165.3h0M333.5 175.3h0M325.7 181.1h0M326.0 184.0h0M337.2 183.0h0M337.8 185.5h0M343.4 179.9h0M344.0 184.2h0M343.4 189.8h0M325.7 193.9h0M334.1 197.6h0M343.2 199.1h0M343.4 201.0h0M332.2 204.7h0M338.2 207.8h0M332.9 212.2h0M344.7 213.2h0M332.9 218.0h0M344.7 220.0h0M330.4 222.5h0M325.7 233.9h0M332.9 231.8h0M338.2 233.0h0M330.4 237.0h0M338.4 243.6h0M337.2 245.7h0M329.8 257.9h0M330.7 262.7h0M332.2 267.5h0M338.7 265.6h0M333.9 276.8h0M337.6 285.5h0M338.4 314.4h0M329.5 343.9h0M412.4 77.1h0M394.1 112.2h0M407.4 126.8h0M370.7 137.0h0M399.9 152.5h0M390.0 155.4h0M407.4 154.4h0M388.1 169.9h0M399.9 168.7h0M407.4 167.1h0M411.1 175.3h0M407.4 179.3h0M373.2 177.4h0M374.5 178.6h0M377.2 182.6h0M390.0 183.9h0M379.7 189.4h0M390.0 189.2h0M391.9 193.5h0M394.3 194.2h0M387.5 196.6h0M387.5 198.5h0M400.3 193.9h0M410.2 195.7h0M414.8 199.8h0M406.8 201.4h0M369.5 204.7h0M372.6 204.7h0M374.5 209.7h0M368.6 213.2h0M373.9 213.4h0M374.5 217.8h0M367.6 220.2h0M369.5 224.0h0M374.5 222.1h0M372.6 227.1h0M387.5 207.8h0M390.4 207.8h0M387.5 212.2h0M388.1 215.3h0M388.1 218.4h0M388.1 221.5h0M393.1 203.9h0M397.1 206.0h0M396.8 215.0h0M392.9 222.5h0M407.8 208.4h0M413.0 207.8h0M413.0 214.3h0M403.7 220.5h0M406.8 224.2h0M413.0 225.6h0M403.7 228.3h0M407.4 231.7h0M392.9 231.4h0M394.1 234.5h0M394.7 240.1h0M395.0 242.6h0M403.4 240.7h0M404.9 249.1h0M387.5 248.2h0M374.5 235.2h0M375.7 237.0h0M368.0 238.9h0M372.6 239.5h0M369.5 243.6h0M371.4 248.2h0M408.6 260.0h0M407.0 274.7h0M374.5 280.5h0M410.5 289.2h0M408.6 293.3h0M389.1 296.0h0M408.0 345.1h0M373.2 353.8h0M368.9 361.9h0M392.9 361.2h0M517.6 72.2h0M477.2 99.5h0M476.3 116.8h0M517.6 124.0h0M457.1 143.5h0M499.9 148.8h0M519.7 156.3h0M538.9 162.7h0M438.7 169.1h0M439.3 175.5h0M500.4 172.8h0M452.4 179.9h0M460.8 181.5h0M452.4 183.6h0M457.1 185.7h0M554.6 176.4h0M543.4 179.6h0M519.4 183.9h0M527.9 184.6h0M543.4 186.7h0M548.6 186.7h0M555.5 186.1h0M544.3 190.4h0M547.4 188.6h0M539.7 194.2h0M454.2 192.9h0M461.1 192.3h0M453.0 196.6h0M458.0 195.4h0M477.2 199.4h0M500.2 198.5h0M517.6 195.7h0M517.6 201.2h0M520.7 204.7h0M520.7 208.4h0M520.7 209.7h0M549.9 198.1h0M548.6 201.6h0M544.3 204.1h0M555.5 206.0h0M543.0 206.6h0M539.7 209.7h0M543.4 209.7h0M549.3 211.3h0M438.7 206.0h0M458.0 210.3h0M459.2 211.8h0M458.0 216.8h0M460.4 220.2h0M457.3 224.6h0M453.0 225.8h0M459.2 228.3h0M460.4 232.0h0M459.8 234.5h0M477.6 222.4h0M501.2 218.6h0M501.2 227.1h0M521.6 215.9h0M521.6 218.4h0M521.9 221.5h0M517.6 222.7h0M521.9 225.8h0M523.2 228.3h0M519.4 228.9h0M521.3 232.0h0M521.9 235.4h0M538.9 215.9h0M548.6 221.5h0M549.9 220.9h0M555.5 220.2h0M553.6 225.8h0M553.6 228.3h0M545.5 226.7h0M539.3 229.2h0M544.3 231.7h0M549.3 233.0h0M548.6 236.4h0M549.0 237.9h0M477.8 237.0h0M478.2 240.1h0M478.2 248.2h0M460.8 243.5h0M527.9 242.6h0M522.5 246.3h0M553.6 243.9h0M554.0 246.3h0M549.9 249.4h0M539.3 250.9h0M545.5 252.5h0M549.3 254.4h0M551.7 256.9h0M521.7 252.5h0M523.2 256.3h0M545.5 260.6h0M549.0 266.2h0M459.8 258.1h0M501.7 264.3h0M438.7 277.4h0M453.4 282.1h0M553.6 306.6h0M553.6 308.4h0M539.7 319.0h0M520.4 341.4h0M613.2 102.9h0M691.5 123.6h0M650.5 141.6h0M692.4 156.9h0M691.1 166.5h0M614.1 170.9h0M583.4 173.7h0M584.0 176.1h0M608.3 180.5h0M613.9 188.0h0M683.7 179.9h0M683.0 183.0h0M680.3 186.1h0M684.3 188.6h0M692.4 178.3h0M692.4 185.7h0M692.1 194.2h0M592.1 198.5h0M579.7 202.9h0M680.3 202.9h0M578.7 208.4h0M582.2 212.2h0M577.5 214.0h0M592.1 210.7h0M607.6 213.4h0M610.4 215.0h0M607.0 221.5h0M610.7 221.5h0M577.5 220.6h0M684.9 211.3h0M691.5 210.6h0M684.0 217.1h0M686.1 219.6h0M692.1 219.0h0M691.1 222.1h0M692.4 225.8h0M650.7 222.1h0M650.7 227.7h0M651.4 230.8h0M615.7 227.1h0M609.5 229.2h0M616.0 231.7h0M608.3 234.9h0M582.2 233.3h0M577.5 237.0h0M683.4 225.8h0M684.9 228.7h0M686.1 230.8h0M691.5 234.9h0M582.4 243.2h0M579.3 245.1h0M576.2 247.0h0M610.4 244.5h0M615.3 242.6h0M684.9 242.6h0M580.9 254.4h0M607.9 259.1h0M691.1 254.4h0M691.5 256.5h0M578.4 263.7h0M579.7 271.8h0M607.9 273.9h0M690.2 298.5h0M685.9 305.3h0M691.5 309.7h0M594.8 328.9h0M651.7 376.8h0M709.3 219.0h0M709.9 229.2h0M708.1 234.9h0M708.9 257.3h0M708.1 276.8h0M828.6 76.1h0M752.2 138.3h0M732.0 144.8h0M826.7 149.7h0M827.3 159.0h0M749.1 162.9h0M748.2 163.7h0M734.8 169.9h0M826.5 172.8h0M754.0 178.9h0M732.0 183.9h0M748.4 187.6h0M734.8 192.9h0M734.8 193.9h0M754.0 192.0h0M747.2 198.1h0M750.3 198.5h0M747.8 200.4h0M748.2 202.9h0M730.2 202.0h0M735.4 206.6h0M734.8 211.3h0M753.4 206.6h0M753.4 209.7h0M828.0 200.0h0M750.3 215.9h0M748.4 219.0h0M730.2 225.6h0M741.0 224.8h0M748.4 224.2h0M750.3 227.1h0M734.8 231.2h0M736.0 230.2h0M750.3 233.5h0M749.4 238.9h0M736.6 238.5h0M732.9 242.6h0M736.3 246.0h0M736.3 248.2h0M748.8 246.3h0M750.3 250.3h0M827.7 226.1h0M833.9 229.3h0M827.3 244.5h0M733.8 271.2h0M730.2 277.4h0M754.7 271.2h0M754.7 275.8h0M749.4 297.0h0M750.3 342.0h0M735.4 355.3h0M863.4 101.0h0M906.5 107.6h0M858.6 127.7h0M913.9 131.1h0M858.6 143.5h0M905.6 169.1h0M864.2 173.3h0M861.4 192.9h0M864.2 193.9h0M863.4 196.6h0M863.4 201.6h0M863.6 205.3h0M863.4 215.0h0M869.4 217.8h0M869.8 226.1h0M859.9 231.8h0M864.5 232.0h0M858.6 236.4h0M860.5 245.5h0M859.6 263.7h0M858.6 276.8h0M863.4 316.1h0M906.5 211.3h0M914.3 214.3h0M905.6 217.1h0M905.6 220.6h0M908.3 225.2h0M903.6 229.2h0M907.1 229.6h0M907.7 232.0h0M907.5 235.2h0M906.5 238.0h0M915.8 244.2h0M914.5 247.3h0M915.8 250.7h0M902.5 248.2h0M907.5 256.5h0M908.3 266.6h0M903.7 305.6h0M902.7 351.3h0M940.6 203.9h0M940.6 213.2h0M979.1 257.3h0M996.1 94.5h0M1004.8 95.7h0M1091.1 112.2h0M1091.5 124.6h0M1005.2 162.5h0M1009.5 164.1h0M1063.4 165.3h0M1072.9 178.3h0M1063.4 183.9h0M1094.9 187.3h0M996.5 193.9h0M995.9 199.1h0M996.7 200.4h0M1005.8 199.4h0M1070.0 197.5h0M1069.2 204.7h0M1091.1 199.8h0M1095.2 207.6h0M1095.7 210.3h0M1043.3 210.6h0M996.5 213.4h0M1002.1 212.4h0M1063.2 215.3h0M1063.4 216.8h0M1070.0 216.9h0M1091.1 214.0h0M1094.3 218.0h0M1091.1 221.5h0M1069.4 227.1h0M1096.5 230.6h0M1063.4 236.1h0M1070.0 237.6h0M1070.0 239.1h0M1094.9 243.5h0M1070.0 248.2h0M1005.8 254.4h0M1094.9 256.5h0M1094.9 257.5h0M1095.2 264.7h0M1001.1 270.9h0M1005.1 274.3h0M1005.2 279.5h0M1072.9 290.1h0M995.9 298.5h0M1005.7 300.0h0M1094.9 331.4h0M1140.4 150.7h0M1140.1 189.2h0M1123.4 201.2h0M1140.1 198.3h0M1141.1 206.8h0M1140.1 218.0h0M1138.3 248.8h0M1141.1 253.4h0M1138.3 260.9h0" stroke="#000" stroke-width="5.2" stroke-linecap="round"/>
<path d="M219.2 514.3h0M215.2 521.8h0M220.2 526.5h0M249.4 527.1h0M210.2 530.9h0M189.8 536.4h0M188.5 551.6h0M192.0 550.1h0M264.5 551.0h0M225.4 564.0h0M224.9 570.5h0M178.6 573.1h0M199.1 573.1h0M252.5 577.7h0M217.1 588.9h0M256.6 589.7h0M208.0 596.3h0M229.1 596.6h0M170.5 600.3h0M198.2 602.5h0M236.3 602.3h0M241.9 602.3h0M258.7 601.0h0M281.7 600.0h0M287.9 597.6h0M283.9 606.3h0M286.6 611.8h0M281.4 615.0h0M195.7 608.1h0M177.3 611.5h0M190.4 611.6h0M244.0 610.9h0M170.9 615.6h0M176.1 616.8h0M179.8 618.9h0M178.0 622.8h0M190.4 617.4h0M188.5 620.5h0M192.9 620.9h0M192.2 624.6h0M188.5 625.5h0M200.9 616.8h0M206.5 616.2h0M244.7 615.2h0M235.7 616.4h0M224.5 618.1h0M228.3 620.2h0M241.9 621.8h0M246.9 621.2h0M245.7 618.7h0M263.7 613.1h0M262.4 616.8h0M268.6 617.2h0M270.2 621.2h0M203.4 625.5h0M171.4 627.4h0M210.0 628.4h0M223.0 626.4h0M239.2 627.1h0M241.3 630.5h0M237.0 632.0h0M253.1 625.5h0M258.9 624.6h0M260.8 627.1h0M260.6 631.1h0M289.1 625.5h0M285.4 631.1h0M287.3 631.1h0M189.8 631.1h0M190.4 634.8h0M200.7 631.7h0M200.7 634.8h0M210.0 634.8h0M173.6 635.4h0M176.5 637.9h0M179.2 639.2h0M223.0 636.7h0M232.0 638.3h0M235.1 637.3h0M237.6 636.7h0M233.2 641.0h0M252.1 636.1h0M264.9 638.3h0M269.0 642.3h0M270.7 641.0h0M282.7 637.9h0M287.3 641.0h0M286.6 644.8h0M188.5 640.4h0M198.1 641.4h0M245.7 641.0h0M248.8 641.3h0M250.9 641.7h0M254.7 642.0h0M209.4 642.3h0M207.1 645.4h0M205.3 646.4h0M209.0 648.5h0M213.6 643.8h0M214.6 648.5h0M218.7 649.4h0M223.3 644.8h0M225.8 646.0h0M224.3 649.1h0M172.1 644.8h0M171.1 647.2h0M172.4 649.7h0M178.3 648.5h0M190.4 645.4h0M191.6 647.2h0M244.4 646.0h0M248.1 646.9h0M252.1 647.5h0M259.7 648.2h0M284.2 649.5h0M287.9 647.2h0M207.1 650.4h0M200.9 651.2h0M171.1 652.8h0M231.4 649.5h0M229.5 652.2h0M238.8 649.7h0M240.1 652.8h0M252.5 652.2h0M192.9 654.1h0M191.0 655.3h0M189.1 658.4h0M200.9 654.7h0M202.2 659.0h0M204.7 659.0h0M210.0 655.9h0M210.2 659.0h0M216.8 657.4h0M223.3 657.8h0M225.2 658.4h0M230.5 657.2h0M232.6 656.2h0M238.2 657.8h0M241.9 659.0h0M248.8 655.7h0M252.1 657.2h0M266.1 653.5h0M270.2 655.3h0M271.1 659.9h0M282.3 655.6h0M179.8 660.9h0M172.4 664.6h0M179.8 663.4h0M182.3 664.0h0M200.3 662.8h0M204.7 662.2h0M202.8 666.5h0M213.4 661.5h0M218.3 664.0h0M239.4 664.0h0M238.8 665.9h0M244.4 661.5h0M259.9 662.2h0M264.3 661.5h0M251.6 665.6h0M256.8 667.1h0M260.6 668.4h0M266.1 667.7h0M270.2 666.9h0M283.5 663.4h0M193.5 670.2h0M197.2 672.1h0M200.9 674.0h0M207.8 670.2h0M209.6 671.5h0M209.4 667.1h0M219.6 669.0h0M235.7 669.6h0M239.4 673.3h0M243.2 675.2h0M251.9 670.2h0M254.3 672.1h0M256.8 670.9h0M268.6 670.9h0M269.9 674.0h0M286.4 669.6h0M286.6 674.0h0M192.9 676.4h0M197.2 679.3h0M202.8 680.2h0M203.4 681.4h0M207.1 677.7h0M220.2 676.2h0M242.9 679.3h0M246.9 682.0h0M180.4 675.2h0M178.0 679.8h0M183.3 680.5h0M281.7 678.9h0M282.7 677.1h0M285.4 683.5h0M191.6 684.8h0M195.3 688.5h0M200.7 690.7h0M213.4 688.9h0M217.1 688.5h0M218.9 691.3h0M235.7 686.4h0M249.4 687.6h0M254.1 688.2h0M256.2 683.5h0M260.6 684.5h0M269.9 689.9h0M225.5 692.6h0M213.4 693.8h0M178.3 695.1h0M174.8 697.9h0M201.6 698.2h0M203.4 700.9h0M223.7 698.2h0M242.5 701.3h0M246.3 704.1h0M263.0 703.8h0M281.4 701.3h0M172.1 704.6h0M170.5 709.4h0M177.3 707.5h0M176.7 708.7h0M213.1 702.8h0M216.5 709.4h0M228.5 710.0h0M172.1 716.8h0M195.3 736.7h0M234.5 736.1h0M254.1 737.7h0M230.1 746.0h0M171.7 759.7h0M175.8 759.0h0M250.0 759.0h0M175.5 768.4h0M185.2 775.4h0M262.2 770.6h0M172.4 788.2h0M209.0 788.9h0M258.7 788.2h0M292.7 503.1h0M291.9 561.9h0M293.7 566.8h0M292.2 614.3h0M290.6 625.1h0M292.2 628.9h0M291.0 636.1h0M292.7 651.6h0M292.7 675.2h0M293.7 701.7h0M292.7 758.7h0M412.4 522.7h0M387.3 550.6h0M370.7 566.8h0M371.4 584.1h0M394.7 584.1h0M400.3 583.3h0M396.8 592.3h0M333.7 577.7h0M337.6 592.3h0M330.7 603.5h0M344.0 602.9h0M392.9 602.2h0M388.1 608.1h0M387.1 612.7h0M393.7 612.7h0M332.2 614.3h0M333.2 618.1h0M338.7 612.5h0M344.0 615.2h0M372.6 614.6h0M374.8 622.2h0M329.5 623.4h0M325.7 626.4h0M332.9 628.2h0M338.4 625.1h0M343.4 625.3h0M343.2 633.0h0M367.0 630.1h0M374.5 632.7h0M388.1 633.0h0M390.4 632.6h0M392.9 632.0h0M403.4 631.1h0M407.4 626.4h0M414.8 631.7h0M332.2 639.2h0M338.8 643.9h0M345.0 647.6h0M337.2 649.1h0M333.5 651.2h0M344.0 652.6h0M343.2 656.6h0M329.8 655.3h0M332.2 659.0h0M332.9 660.9h0M330.4 661.5h0M367.6 641.0h0M374.5 641.0h0M403.7 642.9h0M387.5 645.8h0M389.4 647.9h0M392.5 647.0h0M394.7 649.1h0M399.9 648.5h0M368.9 648.5h0M368.3 651.0h0M373.2 647.2h0M375.1 652.0h0M379.8 652.6h0M388.1 652.6h0M389.1 657.8h0M399.9 656.2h0M406.8 651.2h0M409.9 650.7h0M407.4 655.3h0M413.0 655.3h0M369.5 659.7h0M372.6 660.9h0M374.2 658.4h0M374.5 666.8h0M325.8 665.9h0M332.9 666.5h0M338.2 664.0h0M344.4 665.9h0M325.8 671.5h0M331.6 672.1h0M331.2 674.3h0M338.2 671.8h0M343.4 670.6h0M343.4 672.7h0M396.8 665.5h0M408.6 662.2h0M413.0 661.9h0M407.4 669.6h0M411.5 669.6h0M408.6 676.4h0M368.0 674.0h0M374.8 675.2h0M377.6 676.1h0M372.6 681.4h0M373.6 687.9h0M388.5 674.0h0M394.1 680.5h0M339.1 683.3h0M334.1 685.1h0M326.0 688.9h0M330.4 688.9h0M326.3 695.3h0M392.9 693.2h0M394.7 692.6h0M403.7 693.5h0M406.8 693.5h0M413.0 691.6h0M390.0 701.7h0M394.7 706.3h0M407.8 707.1h0M407.4 712.5h0M369.5 707.5h0M337.2 712.5h0M337.6 719.9h0M338.7 725.5h0M387.5 719.9h0M393.7 729.2h0M368.3 735.7h0M407.4 743.1h0M438.7 528.0h0M459.8 530.7h0M543.4 534.5h0M545.3 543.8h0M459.8 568.6h0M527.9 564.0h0M539.7 566.8h0M460.1 589.7h0M453.4 592.3h0M549.5 586.0h0M458.9 600.3h0M553.4 596.1h0M553.6 603.5h0M500.2 602.9h0M452.4 607.5h0M460.4 611.2h0M460.2 614.3h0M460.8 617.2h0M454.2 618.1h0M453.4 619.9h0M500.2 615.0h0M501.8 619.7h0M521.9 614.3h0M539.9 609.4h0M538.7 614.3h0M545.3 614.3h0M549.9 612.7h0M527.9 621.4h0M523.2 623.6h0M539.9 623.6h0M544.0 625.5h0M476.0 624.6h0M477.8 626.8h0M453.4 628.2h0M458.0 631.1h0M460.4 633.0h0M438.7 634.6h0M439.3 636.7h0M452.4 638.3h0M519.4 631.1h0M521.7 632.6h0M517.6 636.1h0M518.2 637.6h0M520.7 639.2h0M539.9 635.4h0M548.6 636.7h0M554.0 634.5h0M555.5 635.4h0M501.1 642.0h0M543.4 641.7h0M554.0 642.0h0M544.3 645.4h0M548.0 645.4h0M549.0 649.1h0M517.6 645.4h0M520.7 645.4h0M521.9 648.5h0M522.5 651.6h0M517.6 652.8h0M521.3 655.3h0M521.3 658.4h0M521.3 661.5h0M549.9 650.7h0M552.4 652.6h0M478.2 647.6h0M458.0 651.6h0M460.8 653.5h0M455.2 658.8h0M452.7 664.0h0M549.9 658.4h0M549.0 660.3h0M527.9 659.4h0M517.6 666.5h0M520.4 669.6h0M519.4 671.5h0M555.5 664.9h0M553.6 666.5h0M549.0 670.2h0M478.4 667.7h0M477.2 671.5h0M477.5 674.2h0M438.7 670.5h0M500.2 670.5h0M457.6 672.5h0M460.8 678.9h0M523.2 677.7h0M539.3 679.8h0M544.0 676.2h0M549.0 674.8h0M553.6 675.2h0M545.5 680.4h0M543.4 686.4h0M457.1 685.4h0M458.3 692.6h0M522.3 690.7h0M553.4 693.5h0M457.1 710.0h0M477.2 716.8h0M554.2 710.0h0M539.1 712.7h0M539.6 720.2h0M519.4 734.8h0M538.7 734.0h0M555.5 732.6h0M458.9 742.3h0M521.3 755.0h0M607.9 527.1h0M691.5 522.7h0M592.1 570.2h0M684.0 578.3h0M685.3 579.5h0M577.5 597.8h0M608.3 596.1h0M615.7 606.6h0M692.1 602.5h0M685.9 605.3h0M680.6 610.9h0M691.1 610.9h0M684.9 615.6h0M691.1 615.0h0M577.5 610.9h0M582.7 612.7h0M577.5 623.6h0M650.7 619.9h0M617.2 622.4h0M615.3 626.4h0M608.3 627.0h0M691.1 624.5h0M691.5 631.7h0M606.6 634.6h0M650.7 636.4h0M607.6 640.2h0M580.6 641.0h0M579.3 644.8h0M582.2 648.5h0M578.7 651.6h0M584.0 656.2h0M578.7 660.3h0M592.1 641.0h0M594.8 645.6h0M609.5 648.5h0M609.5 654.1h0M610.4 655.3h0M614.7 654.7h0M613.7 657.8h0M650.7 651.2h0M652.0 656.2h0M652.2 660.9h0M692.1 642.0h0M690.5 645.8h0M683.4 647.5h0M681.2 661.9h0M684.0 665.9h0M686.1 665.9h0M682.8 670.2h0M685.5 670.2h0M692.1 665.0h0M691.5 671.2h0M690.9 675.2h0M582.2 669.6h0M582.2 677.7h0M578.4 683.3h0M583.4 691.3h0M614.1 676.4h0M610.4 683.5h0M650.5 673.3h0M684.3 684.5h0M685.5 687.0h0M684.0 693.5h0M615.1 715.8h0M685.9 717.1h0M607.9 732.6h0M614.5 732.6h0M607.0 741.0h0M610.7 742.3h0M680.3 742.3h0M692.1 771.8h0M577.5 788.0h0M707.7 609.4h0M709.0 612.5h0M707.7 628.6h0M709.3 629.9h0M709.7 656.2h0M750.3 528.0h0M748.2 539.2h0M753.4 551.6h0M827.4 550.1h0M833.9 595.7h0M747.9 599.8h0M748.5 604.4h0M750.3 608.1h0M732.6 602.8h0M734.8 606.0h0M736.7 605.6h0M827.7 606.6h0M748.7 615.0h0M749.5 623.6h0M750.0 625.5h0M749.1 628.0h0M826.5 627.4h0M827.4 633.0h0M736.3 632.7h0M748.7 633.8h0M731.7 641.0h0M748.5 642.0h0M752.2 642.9h0M754.1 646.6h0M828.0 645.6h0M734.6 652.6h0M741.0 654.1h0M731.5 656.2h0M736.1 658.7h0M748.5 651.6h0M750.3 652.8h0M747.2 655.3h0M754.1 657.8h0M749.1 661.5h0M734.6 665.5h0M734.2 669.6h0M729.8 672.7h0M729.8 674.6h0M736.4 674.2h0M750.1 666.8h0M754.7 670.6h0M834.2 664.0h0M826.5 669.6h0M735.4 686.4h0M734.4 701.7h0M750.3 699.0h0M729.8 732.1h0M747.5 742.3h0M753.4 755.9h0M734.6 783.6h0M859.7 551.3h0M861.5 550.1h0M858.7 596.9h0M863.3 613.1h0M863.9 623.6h0M864.3 626.4h0M863.6 646.0h0M863.6 648.5h0M869.5 649.4h0M860.5 652.2h0M863.4 651.6h0M858.7 657.4h0M860.9 657.4h0M864.3 656.2h0M863.4 664.0h0M858.7 666.9h0M863.4 676.7h0M869.8 680.4h0M861.5 686.1h0M858.7 745.8h0M864.3 745.8h0M902.8 601.9h0M940.4 600.7h0M908.4 615.8h0M907.5 621.2h0M913.9 627.4h0M902.8 631.7h0M905.2 633.0h0M904.4 635.4h0M906.5 634.8h0M906.5 638.3h0M913.9 649.4h0M908.4 658.7h0M915.2 669.6h0M915.8 669.6h0M907.5 676.4h0M914.3 679.8h0M905.5 686.1h0M940.4 681.4h0M906.5 704.6h0M906.5 705.6h0M905.5 727.0h0M903.8 755.1h0M979.2 642.0h0M1005.5 563.4h0M1004.9 602.9h0M1002.1 608.1h0M995.8 610.9h0M995.8 633.0h0M996.4 648.7h0M1005.5 645.8h0M1004.9 647.9h0M1001.1 662.8h0M1005.9 665.9h0M1002.1 675.2h0M1005.2 690.7h0M1009.6 694.5h0M996.4 698.2h0M996.4 710.0h0M1043.4 636.4h0M1069.5 597.8h0M1063.5 615.6h0M1070.1 615.9h0M1063.5 628.2h0M1063.5 633.8h0M1070.1 634.8h0M1069.2 639.2h0M1070.5 641.0h0M1063.3 645.4h0M1063.5 647.5h0M1073.2 645.6h0M1070.5 648.5h0M1073.0 651.2h0M1069.8 676.1h0M1069.2 698.2h0M1095.3 599.7h0M1094.9 610.6h0M1094.9 612.5h0M1091.6 621.4h0M1095.3 627.0h0M1091.2 631.1h0M1096.2 642.9h0M1095.9 646.0h0M1094.3 650.4h0M1094.9 651.2h0M1094.9 658.4h0M1091.2 661.9h0M1091.2 669.0h0M1096.6 675.2h0M1091.2 677.4h0M1094.9 725.5h0M1123.5 652.8h0M1123.5 660.3h0M1140.2 636.1h0M1140.2 640.0h0M1138.3 647.9h0M1141.1 648.5h0M1138.3 656.2h0M1140.8 681.4h0" stroke="#000" stroke-width="5.2" stroke-linecap="round"/>
<circle cx="253.2" cy="970.9" r="4.65" fill="none" stroke="#000" stroke-width="2.3"/>
<circle cx="252.8" cy="1016.2" r="4.65" fill="none" stroke="#000" stroke-width="2.3"/>
<circle cx="232.2" cy="1026.3" r="4.65" fill="none" stroke="#000" stroke-width="2.3"/>
<circle cx="209.6" cy="1042.4" r="4.65" fill="none" stroke="#000" stroke-width="2.3"/>
<circle cx="209.3" cy="1065.4" r="4.65" fill="none" stroke="#000" stroke-width="2.3"/>
<circle cx="211.8" cy="1065.4" r="4.65" fill="none" stroke="#000" stroke-width="2.3"/>
<circle cx="214.9" cy="1065.4" r="4.65" fill="none" stroke="#000" stroke-width="2.3"/>
<circle cx="210.3" cy="1067.3" r="4.65" fill="none" stroke="#000" stroke-width="2.3"/>
<circle cx="232.6" cy="1064.8" r="4.65" fill="none" stroke="#000" stroke-width="2.3"/>
<circle cx="234.2" cy="1069.2" r="4.65" fill="none" stroke="#000" stroke-width="2.3"/>
<circle cx="232.6" cy="1076.1" r="4.65" fill="none" stroke="#000" stroke-width="2.3"/>
<circle cx="252.8" cy="1079.3" r="4.65" fill="none" stroke="#000" stroke-width="2.3"/>
<circle cx="209.3" cy="1085.0" r="4.65" fill="none" stroke="#000" stroke-width="2.3"/>
<circle cx="213.1" cy="1084.3" r="4.65" fill="none" stroke="#000" stroke-width="2.3"/>
<circle cx="216.2" cy="1085.0" r="4.65" fill="none" stroke="#000" stroke-width="2.3"/>
<circle cx="217.5" cy="1090.6" r="4.65" fill="none" stroke="#000" stroke-width="2.3"/>
<circle cx="207.4" cy="1089.4" r="4.65" fill="none" stroke="#000" stroke-width="2.3"/>
<circle cx="210.3" cy="1088.1" r="4.65" fill="none" stroke="#000" stroke-width="2.3"/>
<circle cx="207.4" cy="1097.6" r="4.65" fill="none" stroke="#000" stroke-width="2.3"/>
<circle cx="208.3" cy="1103.3" r="4.65" fill="none" stroke="#000" stroke-width="2.3"/>
<circle cx="205.5" cy="1103.9" r="4.65" fill="none" stroke="#000" stroke-width="2.3"/>
<circle cx="209.3" cy="1107.0" r="4.65" fill="none" stroke="#000" stroke-width="2.3"/>
<circle cx="208.0" cy="1110.2" r="4.65" fill="none" stroke="#000" stroke-width="2.3"/>
<circle cx="238.3" cy="1092.5" r="4.65" fill="none" stroke="#000" stroke-width="2.3"/>
<circle cx="238.3" cy="1098.2" r="4.65" fill="none" stroke="#000" stroke-width="2.3"/>
<circle cx="239.3" cy="1102.6" r="4.65" fill="none" stroke="#000" stroke-width="2.3"/>
<circle cx="238.9" cy="1105.2" r="4.65" fill="none" stroke="#000" stroke-width="2.3"/>
<circle cx="240.8" cy="1107.0" r="4.65" fill="none" stroke="#000" stroke-width="2.3"/>
<circle cx="242.1" cy="1108.3" r="4.65" fill="none" stroke="#000" stroke-width="2.3"/>
<circle cx="254.0" cy="1090.0" r="4.65" fill="none" stroke="#000" stroke-width="2.3"/>
<circle cx="255.7" cy="1095.7" r="4.65" fill="none" stroke="#000" stroke-width="2.3"/>
<circle cx="252.8" cy="1101.4" r="4.65" fill="none" stroke="#000" stroke-width="2.3"/>
<circle cx="254.7" cy="1103.3" r="4.65" fill="none" stroke="#000" stroke-width="2.3"/>
<circle cx="255.9" cy="1105.8" r="4.65" fill="none" stroke="#000" stroke-width="2.3"/>
<circle cx="257.8" cy="1112.7" r="4.65" fill="none" stroke="#000" stroke-width="2.3"/>
<circle cx="259.1" cy="1120.9" r="4.65" fill="none" stroke="#000" stroke-width="2.3"/>
<circle cx="250.9" cy="1117.1" r="4.65" fill="none" stroke="#000" stroke-width="2.3"/>
<circle cx="251.5" cy="1124.1" r="4.65" fill="none" stroke="#000" stroke-width="2.3"/>
<circle cx="250.9" cy="1126.6" r="4.65" fill="none" stroke="#000" stroke-width="2.3"/>
<circle cx="228.2" cy="1117.8" r="4.65" fill="none" stroke="#000" stroke-width="2.3"/>
<circle cx="239.3" cy="1117.1" r="4.65" fill="none" stroke="#000" stroke-width="2.3"/>
<circle cx="242.1" cy="1126.6" r="4.65" fill="none" stroke="#000" stroke-width="2.3"/>
<circle cx="258.4" cy="1132.9" r="4.65" fill="none" stroke="#000" stroke-width="2.3"/>
<circle cx="206.1" cy="1121.5" r="4.65" fill="none" stroke="#000" stroke-width="2.3"/>
<circle cx="206.1" cy="1130.4" r="4.65" fill="none" stroke="#000" stroke-width="2.3"/>
<circle cx="204.2" cy="1137.3" r="4.65" fill="none" stroke="#000" stroke-width="2.3"/>
<circle cx="203.0" cy="1144.2" r="4.65" fill="none" stroke="#000" stroke-width="2.3"/>
<circle cx="203.0" cy="1152.4" r="4.65" fill="none" stroke="#000" stroke-width="2.3"/>
<circle cx="192.6" cy="1124.7" r="4.65" fill="none" stroke="#000" stroke-width="2.3"/>
<circle cx="193.5" cy="1128.5" r="4.65" fill="none" stroke="#000" stroke-width="2.3"/>
<circle cx="215.6" cy="1128.5" r="4.65" fill="none" stroke="#000" stroke-width="2.3"/>
<circle cx="216.2" cy="1133.5" r="4.65" fill="none" stroke="#000" stroke-width="2.3"/>
<circle cx="225.7" cy="1131.0" r="4.65" fill="none" stroke="#000" stroke-width="2.3"/>
<circle cx="228.2" cy="1133.5" r="4.65" fill="none" stroke="#000" stroke-width="2.3"/>
<circle cx="230.7" cy="1137.9" r="4.65" fill="none" stroke="#000" stroke-width="2.3"/>
<circle cx="233.2" cy="1141.1" r="4.65" fill="none" stroke="#000" stroke-width="2.3"/>
<circle cx="240.8" cy="1139.2" r="4.65" fill="none" stroke="#000" stroke-width="2.3"/>
<circle cx="243.3" cy="1143.6" r="4.65" fill="none" stroke="#000" stroke-width="2.3"/>
<circle cx="243.3" cy="1136.7" r="4.65" fill="none" stroke="#000" stroke-width="2.3"/>
<circle cx="248.4" cy="1143.0" r="4.65" fill="none" stroke="#000" stroke-width="2.3"/>
<circle cx="250.9" cy="1151.8" r="4.65" fill="none" stroke="#000" stroke-width="2.3"/>
<circle cx="259.1" cy="1143.6" r="4.65" fill="none" stroke="#000" stroke-width="2.3"/>
<circle cx="261.0" cy="1146.8" r="4.65" fill="none" stroke="#000" stroke-width="2.3"/>
<circle cx="268.5" cy="1144.2" r="4.65" fill="none" stroke="#000" stroke-width="2.3"/>
<circle cx="268.5" cy="1153.1" r="4.65" fill="none" stroke="#000" stroke-width="2.3"/>
<circle cx="189.1" cy="1139.8" r="4.65" fill="none" stroke="#000" stroke-width="2.3"/>
<circle cx="191.6" cy="1145.5" r="4.65" fill="none" stroke="#000" stroke-width="2.3"/>
<circle cx="195.4" cy="1145.5" r="4.65" fill="none" stroke="#000" stroke-width="2.3"/>
<circle cx="187.8" cy="1153.1" r="4.65" fill="none" stroke="#000" stroke-width="2.3"/>
<circle cx="189.7" cy="1155.6" r="4.65" fill="none" stroke="#000" stroke-width="2.3"/>
<circle cx="191.6" cy="1159.4" r="4.65" fill="none" stroke="#000" stroke-width="2.3"/>
<circle cx="188.5" cy="1164.4" r="4.65" fill="none" stroke="#000" stroke-width="2.3"/>
<circle cx="215.6" cy="1151.8" r="4.65" fill="none" stroke="#000" stroke-width="2.3"/>
<circle cx="218.1" cy="1154.3" r="4.65" fill="none" stroke="#000" stroke-width="2.3"/>
<circle cx="224.4" cy="1146.1" r="4.65" fill="none" stroke="#000" stroke-width="2.3"/>
<circle cx="227.6" cy="1151.2" r="4.65" fill="none" stroke="#000" stroke-width="2.3"/>
<circle cx="232.6" cy="1151.8" r="4.65" fill="none" stroke="#000" stroke-width="2.3"/>
<circle cx="235.8" cy="1149.3" r="4.65" fill="none" stroke="#000" stroke-width="2.3"/>
<circle cx="250.9" cy="1158.1" r="4.65" fill="none" stroke="#000" stroke-width="2.3"/>
<circle cx="224.4" cy="1160.0" r="4.65" fill="none" stroke="#000" stroke-width="2.3"/>
<circle cx="225.0" cy="1163.8" r="4.65" fill="none" stroke="#000" stroke-width="2.3"/>
<circle cx="235.8" cy="1161.9" r="4.65" fill="none" stroke="#000" stroke-width="2.3"/>
<circle cx="238.3" cy="1160.0" r="4.65" fill="none" stroke="#000" stroke-width="2.3"/>
<circle cx="201.1" cy="1162.5" r="4.65" fill="none" stroke="#000" stroke-width="2.3"/>
<circle cx="202.3" cy="1170.7" r="4.65" fill="none" stroke="#000" stroke-width="2.3"/>
<circle cx="197.9" cy="1165.7" r="4.65" fill="none" stroke="#000" stroke-width="2.3"/>
<circle cx="200.4" cy="1172.0" r="4.65" fill="none" stroke="#000" stroke-width="2.3"/>
<circle cx="197.9" cy="1174.5" r="4.65" fill="none" stroke="#000" stroke-width="2.3"/>
<circle cx="199.2" cy="1177.0" r="4.65" fill="none" stroke="#000" stroke-width="2.3"/>
<circle cx="191.6" cy="1168.8" r="4.65" fill="none" stroke="#000" stroke-width="2.3"/>
<circle cx="187.8" cy="1172.0" r="4.65" fill="none" stroke="#000" stroke-width="2.3"/>
<circle cx="183.4" cy="1165.7" r="4.65" fill="none" stroke="#000" stroke-width="2.3"/>
<circle cx="181.5" cy="1173.2" r="4.65" fill="none" stroke="#000" stroke-width="2.3"/>
<circle cx="247.1" cy="1169.5" r="4.65" fill="none" stroke="#000" stroke-width="2.3"/>
<circle cx="249.6" cy="1173.2" r="4.65" fill="none" stroke="#000" stroke-width="2.3"/>
<circle cx="247.7" cy="1177.0" r="4.65" fill="none" stroke="#000" stroke-width="2.3"/>
<circle cx="257.8" cy="1166.9" r="4.65" fill="none" stroke="#000" stroke-width="2.3"/>
<circle cx="261.0" cy="1170.7" r="4.65" fill="none" stroke="#000" stroke-width="2.3"/>
<circle cx="262.9" cy="1175.8" r="4.65" fill="none" stroke="#000" stroke-width="2.3"/>
<circle cx="263.5" cy="1178.3" r="4.65" fill="none" stroke="#000" stroke-width="2.3"/>
<circle cx="262.9" cy="1181.4" r="4.65" fill="none" stroke="#000" stroke-width="2.3"/>
<circle cx="268.5" cy="1166.9" r="4.65" fill="none" stroke="#000" stroke-width="2.3"/>
<circle cx="270.4" cy="1170.7" r="4.65" fill="none" stroke="#000" stroke-width="2.3"/>
<circle cx="271.1" cy="1174.5" r="4.65" fill="none" stroke="#000" stroke-width="2.3"/>
<circle cx="281.1" cy="1164.4" r="4.65" fill="none" stroke="#000" stroke-width="2.3"/>
<circle cx="282.4" cy="1172.0" r="4.65" fill="none" stroke="#000" stroke-width="2.3"/>
<circle cx="281.1" cy="1175.8" r="4.65" fill="none" stroke="#000" stroke-width="2.3"/>
<circle cx="282.4" cy="1179.6" r="4.65" fill="none" stroke="#000" stroke-width="2.3"/>
<circle cx="216.8" cy="1176.4" r="4.65" fill="none" stroke="#000" stroke-width="2.3"/>
<circle cx="222.5" cy="1176.4" r="4.65" fill="none" stroke="#000" stroke-width="2.3"/>
<circle cx="225.7" cy="1174.5" r="4.65" fill="none" stroke="#000" stroke-width="2.3"/>
<circle cx="216.8" cy="1181.4" r="4.65" fill="none" stroke="#000" stroke-width="2.3"/>
<circle cx="219.4" cy="1184.6" r="4.65" fill="none" stroke="#000" stroke-width="2.3"/>
<circle cx="223.1" cy="1185.2" r="4.65" fill="none" stroke="#000" stroke-width="2.3"/>
<circle cx="216.8" cy="1192.8" r="4.65" fill="none" stroke="#000" stroke-width="2.3"/>
<circle cx="220.6" cy="1195.3" r="4.65" fill="none" stroke="#000" stroke-width="2.3"/>
<circle cx="222.5" cy="1192.8" r="4.65" fill="none" stroke="#000" stroke-width="2.3"/>
<circle cx="179.0" cy="1182.7" r="4.65" fill="none" stroke="#000" stroke-width="2.3"/>
<circle cx="180.3" cy="1188.4" r="4.65" fill="none" stroke="#000" stroke-width="2.3"/>
<circle cx="177.7" cy="1190.9" r="4.65" fill="none" stroke="#000" stroke-width="2.3"/>
<circle cx="177.1" cy="1197.2" r="4.65" fill="none" stroke="#000" stroke-width="2.3"/>
<circle cx="175.2" cy="1201.0" r="4.65" fill="none" stroke="#000" stroke-width="2.3"/>
<circle cx="175.2" cy="1204.8" r="4.65" fill="none" stroke="#000" stroke-width="2.3"/>
<circle cx="223.1" cy="1214.9" r="4.65" fill="none" stroke="#000" stroke-width="2.3"/>
<circle cx="179.6" cy="1184.6" r="4.65" fill="none" stroke="#000" stroke-width="2.3"/>
<circle cx="178.4" cy="1187.1" r="4.65" fill="none" stroke="#000" stroke-width="2.3"/>
<circle cx="176.5" cy="1194.7" r="4.65" fill="none" stroke="#000" stroke-width="2.3"/>
<circle cx="175.9" cy="1198.5" r="4.65" fill="none" stroke="#000" stroke-width="2.3"/>
<circle cx="177.1" cy="1202.3" r="4.65" fill="none" stroke="#000" stroke-width="2.3"/>
<circle cx="174.0" cy="1203.5" r="4.65" fill="none" stroke="#000" stroke-width="2.3"/>
<circle cx="203.0" cy="1103.9" r="4.65" fill="none" stroke="#000" stroke-width="2.3"/>
<circle cx="205.5" cy="1100.1" r="4.65" fill="none" stroke="#000" stroke-width="2.3"/>
<circle cx="209.3" cy="1101.4" r="4.65" fill="none" stroke="#000" stroke-width="2.3"/>
<circle cx="210.5" cy="1108.9" r="4.65" fill="none" stroke="#000" stroke-width="2.3"/>
<circle cx="206.7" cy="1107.7" r="4.65" fill="none" stroke="#000" stroke-width="2.3"/>
<circle cx="186.6" cy="1149.3" r="4.65" fill="none" stroke="#000" stroke-width="2.3"/>
<circle cx="192.9" cy="1149.3" r="4.65" fill="none" stroke="#000" stroke-width="2.3"/>
<circle cx="190.4" cy="1158.1" r="4.65" fill="none" stroke="#000" stroke-width="2.3"/>
<circle cx="194.1" cy="1159.4" r="4.65" fill="none" stroke="#000" stroke-width="2.3"/>
<circle cx="187.8" cy="1159.4" r="4.65" fill="none" stroke="#000" stroke-width="2.3"/>
<circle cx="192.9" cy="1164.4" r="4.65" fill="none" stroke="#000" stroke-width="2.3"/>
<circle cx="196.7" cy="1172.0" r="4.65" fill="none" stroke="#000" stroke-width="2.3"/>
<circle cx="195.4" cy="1175.8" r="4.65" fill="none" stroke="#000" stroke-width="2.3"/>
<circle cx="237.0" cy="1141.7" r="4.65" fill="none" stroke="#000" stroke-width="2.3"/>
<circle cx="238.3" cy="1145.5" r="4.65" fill="none" stroke="#000" stroke-width="2.3"/>
<circle cx="245.8" cy="1146.8" r="4.65" fill="none" stroke="#000" stroke-width="2.3"/>
<circle cx="243.3" cy="1149.3" r="4.65" fill="none" stroke="#000" stroke-width="2.3"/>
<circle cx="233.2" cy="1134.2" r="4.65" fill="none" stroke="#000" stroke-width="2.3"/>
<circle cx="239.5" cy="1134.2" r="4.65" fill="none" stroke="#000" stroke-width="2.3"/>
<circle cx="291.1" cy="1097.0" r="4.65" fill="none" stroke="#000" stroke-width="2.3"/>
<circle cx="292.0" cy="1107.7" r="4.65" fill="none" stroke="#000" stroke-width="2.3"/>
<circle cx="292.6" cy="1109.6" r="4.65" fill="none" stroke="#000" stroke-width="2.3"/>
<circle cx="286.9" cy="1112.7" r="4.65" fill="none" stroke="#000" stroke-width="2.3"/>
<circle cx="292.6" cy="1119.0" r="4.65" fill="none" stroke="#000" stroke-width="2.3"/>
<circle cx="289.5" cy="1122.8" r="4.65" fill="none" stroke="#000" stroke-width="2.3"/>
<circle cx="293.2" cy="1129.1" r="4.65" fill="none" stroke="#000" stroke-width="2.3"/>
<circle cx="286.3" cy="1136.0" r="4.65" fill="none" stroke="#000" stroke-width="2.3"/>
<circle cx="291.3" cy="1139.8" r="4.65" fill="none" stroke="#000" stroke-width="2.3"/>
<circle cx="287.6" cy="1149.3" r="4.65" fill="none" stroke="#000" stroke-width="2.3"/>
<circle cx="285.0" cy="1146.8" r="4.65" fill="none" stroke="#000" stroke-width="2.3"/>
<circle cx="293.2" cy="1152.4" r="4.65" fill="none" stroke="#000" stroke-width="2.3"/>
<circle cx="285.7" cy="1159.4" r="4.65" fill="none" stroke="#000" stroke-width="2.3"/>
<circle cx="293.9" cy="1171.4" r="4.65" fill="none" stroke="#000" stroke-width="2.3"/>
<circle cx="293.9" cy="1185.2" r="4.65" fill="none" stroke="#000" stroke-width="2.3"/>
<circle cx="283.8" cy="1154.3" r="4.65" fill="none" stroke="#000" stroke-width="2.3"/>
<circle cx="283.2" cy="1178.3" r="4.65" fill="none" stroke="#000" stroke-width="2.3"/>
<circle cx="287.6" cy="1164.4" r="4.65" fill="none" stroke="#000" stroke-width="2.3"/>
<circle cx="332.3" cy="1156.9" r="4.65" fill="none" stroke="#000" stroke-width="2.3"/>
<circle cx="344.9" cy="1145.5" r="4.65" fill="none" stroke="#000" stroke-width="2.3"/>
<circle cx="335.5" cy="1159.4" r="4.65" fill="none" stroke="#000" stroke-width="2.3"/>
<circle cx="339.3" cy="1156.9" r="4.65" fill="none" stroke="#000" stroke-width="2.3"/>
<circle cx="344.3" cy="1156.9" r="4.65" fill="none" stroke="#000" stroke-width="2.3"/>
<circle cx="334.2" cy="1166.9" r="4.65" fill="none" stroke="#000" stroke-width="2.3"/>
<circle cx="338.0" cy="1166.9" r="4.65" fill="none" stroke="#000" stroke-width="2.3"/>
<circle cx="343.1" cy="1164.4" r="4.65" fill="none" stroke="#000" stroke-width="2.3"/>
<circle cx="345.6" cy="1169.5" r="4.65" fill="none" stroke="#000" stroke-width="2.3"/>
<circle cx="340.5" cy="1172.0" r="4.65" fill="none" stroke="#000" stroke-width="2.3"/>
<circle cx="337.4" cy="1179.6" r="4.65" fill="none" stroke="#000" stroke-width="2.3"/>
<circle cx="331.7" cy="1165.1" r="4.65" fill="none" stroke="#000" stroke-width="2.3"/>
<circle cx="343.1" cy="1159.4" r="4.65" fill="none" stroke="#000" stroke-width="2.3"/>
<circle cx="392.9" cy="1030.8" r="4.65" fill="none" stroke="#000" stroke-width="2.3"/>
<circle cx="390.3" cy="1055.7" r="4.65" fill="none" stroke="#000" stroke-width="2.3"/>
<circle cx="374.6" cy="1060.0" r="4.65" fill="none" stroke="#000" stroke-width="2.3"/>
<circle cx="393.2" cy="1074.9" r="4.65" fill="none" stroke="#000" stroke-width="2.3"/>
<circle cx="393.5" cy="1078.7" r="4.65" fill="none" stroke="#000" stroke-width="2.3"/>
<circle cx="393.5" cy="1094.4" r="4.65" fill="none" stroke="#000" stroke-width="2.3"/>
<circle cx="374.6" cy="1103.3" r="4.65" fill="none" stroke="#000" stroke-width="2.3"/>
<circle cx="374.6" cy="1106.4" r="4.65" fill="none" stroke="#000" stroke-width="2.3"/>
<circle cx="389.1" cy="1105.8" r="4.65" fill="none" stroke="#000" stroke-width="2.3"/>
<circle cx="389.7" cy="1107.7" r="4.65" fill="none" stroke="#000" stroke-width="2.3"/>
<circle cx="374.6" cy="1116.5" r="4.65" fill="none" stroke="#000" stroke-width="2.3"/>
<circle cx="380.3" cy="1117.8" r="4.65" fill="none" stroke="#000" stroke-width="2.3"/>
<circle cx="388.4" cy="1116.5" r="4.65" fill="none" stroke="#000" stroke-width="2.3"/>
<circle cx="388.4" cy="1119.0" r="4.65" fill="none" stroke="#000" stroke-width="2.3"/>
<circle cx="414.9" cy="1110.2" r="4.65" fill="none" stroke="#000" stroke-width="2.3"/>
<circle cx="411.1" cy="1117.8" r="4.65" fill="none" stroke="#000" stroke-width="2.3"/>
<circle cx="409.9" cy="1124.1" r="4.65" fill="none" stroke="#000" stroke-width="2.3"/>
<circle cx="408.6" cy="1127.8" r="4.65" fill="none" stroke="#000" stroke-width="2.3"/>
<circle cx="408.6" cy="1130.4" r="4.65" fill="none" stroke="#000" stroke-width="2.3"/>
<circle cx="389.7" cy="1133.5" r="4.65" fill="none" stroke="#000" stroke-width="2.3"/>
<circle cx="377.1" cy="1142.4" r="4.65" fill="none" stroke="#000" stroke-width="2.3"/>
<circle cx="387.2" cy="1141.7" r="4.65" fill="none" stroke="#000" stroke-width="2.3"/>
<circle cx="388.4" cy="1145.5" r="4.65" fill="none" stroke="#000" stroke-width="2.3"/>
<circle cx="387.2" cy="1150.5" r="4.65" fill="none" stroke="#000" stroke-width="2.3"/>
<circle cx="394.8" cy="1151.2" r="4.65" fill="none" stroke="#000" stroke-width="2.3"/>
<circle cx="400.4" cy="1148.0" r="4.65" fill="none" stroke="#000" stroke-width="2.3"/>
<circle cx="408.6" cy="1148.7" r="4.65" fill="none" stroke="#000" stroke-width="2.3"/>
<circle cx="413.7" cy="1155.0" r="4.65" fill="none" stroke="#000" stroke-width="2.3"/>
<circle cx="407.4" cy="1159.4" r="4.65" fill="none" stroke="#000" stroke-width="2.3"/>
<circle cx="394.8" cy="1168.2" r="4.65" fill="none" stroke="#000" stroke-width="2.3"/>
<circle cx="399.8" cy="1169.5" r="4.65" fill="none" stroke="#000" stroke-width="2.3"/>
<circle cx="407.4" cy="1175.8" r="4.65" fill="none" stroke="#000" stroke-width="2.3"/>
<circle cx="404.8" cy="1180.8" r="4.65" fill="none" stroke="#000" stroke-width="2.3"/>
<circle cx="407.4" cy="1182.1" r="4.65" fill="none" stroke="#000" stroke-width="2.3"/>
<circle cx="406.1" cy="1198.5" r="4.65" fill="none" stroke="#000" stroke-width="2.3"/>
<circle cx="522.2" cy="974.6" r="4.65" fill="none" stroke="#000" stroke-width="2.3"/>
<circle cx="522.2" cy="977.2" r="4.65" fill="none" stroke="#000" stroke-width="2.3"/>
<circle cx="522.2" cy="996.5" r="4.65" fill="none" stroke="#000" stroke-width="2.3"/>
<circle cx="522.2" cy="1014.4" r="4.65" fill="none" stroke="#000" stroke-width="2.3"/>
<circle cx="523.4" cy="1016.9" r="4.65" fill="none" stroke="#000" stroke-width="2.3"/>
<circle cx="527.9" cy="1021.3" r="4.65" fill="none" stroke="#000" stroke-width="2.3"/>
<circle cx="521.6" cy="1052.2" r="4.65" fill="none" stroke="#000" stroke-width="2.3"/>
<circle cx="528.5" cy="1054.7" r="4.65" fill="none" stroke="#000" stroke-width="2.3"/>
<circle cx="522.2" cy="1062.9" r="4.65" fill="none" stroke="#000" stroke-width="2.3"/>
<circle cx="523.4" cy="1082.2" r="4.65" fill="none" stroke="#000" stroke-width="2.3"/>
<circle cx="539.2" cy="1079.3" r="4.65" fill="none" stroke="#000" stroke-width="2.3"/>
<circle cx="539.2" cy="1104.1" r="4.65" fill="none" stroke="#000" stroke-width="2.3"/>
<circle cx="539.2" cy="1126.2" r="4.65" fill="none" stroke="#000" stroke-width="2.3"/>
<circle cx="459.8" cy="1161.3" r="4.65" fill="none" stroke="#000" stroke-width="2.3"/>
<circle cx="459.8" cy="1165.7" r="4.65" fill="none" stroke="#000" stroke-width="2.3"/>
<circle cx="460.4" cy="1170.7" r="4.65" fill="none" stroke="#000" stroke-width="2.3"/>
<circle cx="461.0" cy="1175.8" r="4.65" fill="none" stroke="#000" stroke-width="2.3"/>
<circle cx="460.4" cy="1180.8" r="4.65" fill="none" stroke="#000" stroke-width="2.3"/>
<circle cx="461.0" cy="1185.9" r="4.65" fill="none" stroke="#000" stroke-width="2.3"/>
<circle cx="461.0" cy="1194.1" r="4.65" fill="none" stroke="#000" stroke-width="2.3"/>
<circle cx="478.1" cy="1173.9" r="4.65" fill="none" stroke="#000" stroke-width="2.3"/>
<circle cx="478.1" cy="1173.9" r="4.65" fill="none" stroke="#000" stroke-width="2.3"/>
<circle cx="553.1" cy="1137.3" r="4.65" fill="none" stroke="#000" stroke-width="2.3"/>
<circle cx="553.1" cy="1148.7" r="4.65" fill="none" stroke="#000" stroke-width="2.3"/>
<circle cx="549.9" cy="1158.1" r="4.65" fill="none" stroke="#000" stroke-width="2.3"/>
<circle cx="549.9" cy="1163.2" r="4.65" fill="none" stroke="#000" stroke-width="2.3"/>
<circle cx="539.8" cy="1165.7" r="4.65" fill="none" stroke="#000" stroke-width="2.3"/>
<circle cx="539.2" cy="1175.8" r="4.65" fill="none" stroke="#000" stroke-width="2.3"/>
<circle cx="541.1" cy="1179.6" r="4.65" fill="none" stroke="#000" stroke-width="2.3"/>
<circle cx="539.2" cy="1184.6" r="4.65" fill="none" stroke="#000" stroke-width="2.3"/>
<circle cx="541.1" cy="1189.6" r="4.65" fill="none" stroke="#000" stroke-width="2.3"/>
<circle cx="546.1" cy="1197.2" r="4.65" fill="none" stroke="#000" stroke-width="2.3"/>
<circle cx="548.7" cy="1169.5" r="4.65" fill="none" stroke="#000" stroke-width="2.3"/>
<circle cx="551.2" cy="1174.5" r="4.65" fill="none" stroke="#000" stroke-width="2.3"/>
<circle cx="549.9" cy="1179.6" r="4.65" fill="none" stroke="#000" stroke-width="2.3"/>
<circle cx="551.2" cy="1184.6" r="4.65" fill="none" stroke="#000" stroke-width="2.3"/>
<circle cx="548.7" cy="1189.6" r="4.65" fill="none" stroke="#000" stroke-width="2.3"/>
<circle cx="553.7" cy="1192.2" r="4.65" fill="none" stroke="#000" stroke-width="2.3"/>
<circle cx="556.1" cy="1170.7" r="4.65" fill="none" stroke="#000" stroke-width="2.3"/>
<circle cx="556.3" cy="1178.3" r="4.65" fill="none" stroke="#000" stroke-width="2.3"/>
<circle cx="556.3" cy="1188.4" r="4.65" fill="none" stroke="#000" stroke-width="2.3"/>
<circle cx="556.3" cy="1192.2" r="4.65" fill="none" stroke="#000" stroke-width="2.3"/>
<circle cx="595.2" cy="1165.7" r="4.65" fill="none" stroke="#000" stroke-width="2.3"/>
<circle cx="616.6" cy="1193.4" r="4.65" fill="none" stroke="#000" stroke-width="2.3"/>
<circle cx="617.1" cy="1194.4" r="4.65" fill="none" stroke="#000" stroke-width="2.3"/>
<circle cx="692.6" cy="1164.4" r="4.65" fill="none" stroke="#000" stroke-width="2.3"/>
<circle cx="692.6" cy="1174.5" r="4.65" fill="none" stroke="#000" stroke-width="2.3"/>
<circle cx="692.3" cy="1178.3" r="4.65" fill="none" stroke="#000" stroke-width="2.3"/>
<circle cx="691.9" cy="1182.1" r="4.65" fill="none" stroke="#000" stroke-width="2.3"/>
<circle cx="691.9" cy="1185.9" r="4.65" fill="none" stroke="#000" stroke-width="2.3"/>
<circle cx="691.9" cy="1189.6" r="4.65" fill="none" stroke="#000" stroke-width="2.3"/>
<circle cx="691.9" cy="1193.4" r="4.65" fill="none" stroke="#000" stroke-width="2.3"/>
<circle cx="691.9" cy="1201.6" r="4.65" fill="none" stroke="#000" stroke-width="2.3"/>
<circle cx="710.0" cy="1117.8" r="4.65" fill="none" stroke="#000" stroke-width="2.3"/>
<circle cx="709.6" cy="1126.6" r="4.65" fill="none" stroke="#000" stroke-width="2.3"/>
<circle cx="709.2" cy="1127.8" r="4.65" fill="none" stroke="#000" stroke-width="2.3"/>
<circle cx="748.7" cy="1066.7" r="4.65" fill="none" stroke="#000" stroke-width="2.3"/>
<circle cx="742.4" cy="1079.3" r="4.65" fill="none" stroke="#000" stroke-width="2.3"/>
<circle cx="749.1" cy="1079.7" r="4.65" fill="none" stroke="#000" stroke-width="2.3"/>
<circle cx="748.7" cy="1114.6" r="4.65" fill="none" stroke="#000" stroke-width="2.3"/>
<circle cx="748.7" cy="1117.1" r="4.65" fill="none" stroke="#000" stroke-width="2.3"/>
<circle cx="749.3" cy="1126.0" r="4.65" fill="none" stroke="#000" stroke-width="2.3"/>
<circle cx="754.4" cy="1133.5" r="4.65" fill="none" stroke="#000" stroke-width="2.3"/>
<circle cx="750.6" cy="1143.0" r="4.65" fill="none" stroke="#000" stroke-width="2.3"/>
<circle cx="755.0" cy="1142.4" r="4.65" fill="none" stroke="#000" stroke-width="2.3"/>
<circle cx="756.9" cy="1148.7" r="4.65" fill="none" stroke="#000" stroke-width="2.3"/>
<circle cx="748.7" cy="1148.7" r="4.65" fill="none" stroke="#000" stroke-width="2.3"/>
<circle cx="748.1" cy="1153.1" r="4.65" fill="none" stroke="#000" stroke-width="2.3"/>
<circle cx="749.3" cy="1156.9" r="4.65" fill="none" stroke="#000" stroke-width="2.3"/>
<circle cx="748.7" cy="1160.6" r="4.65" fill="none" stroke="#000" stroke-width="2.3"/>
<circle cx="749.9" cy="1164.4" r="4.65" fill="none" stroke="#000" stroke-width="2.3"/>
<circle cx="753.1" cy="1153.1" r="4.65" fill="none" stroke="#000" stroke-width="2.3"/>
<circle cx="749.3" cy="1176.4" r="4.65" fill="none" stroke="#000" stroke-width="2.3"/>
<circle cx="870.0" cy="1127.2" r="4.65" fill="none" stroke="#000" stroke-width="2.3"/>
<circle cx="865.4" cy="1147.4" r="4.65" fill="none" stroke="#000" stroke-width="2.3"/>
<circle cx="915.8" cy="1170.1" r="4.65" fill="none" stroke="#000" stroke-width="2.3"/>
<circle cx="916.0" cy="1172.0" r="4.65" fill="none" stroke="#000" stroke-width="2.3"/>
<circle cx="916.4" cy="1174.5" r="4.65" fill="none" stroke="#000" stroke-width="2.3"/>
<polyline points="194.3,1426.2 206.0,1426.2 217.7,1426.2 229.5,1426.2 241.2,1426.2 252.9,1426.2 264.6,1427.9 276.3,1428.9 288.0,1436.5 299.8,1449.4 311.5,1463.8 323.2,1500.7 334.9,1531.0 346.6,1548.4 358.3,1575.4 370.0,1595.1 381.8,1604.5 393.5,1617.6 405.2,1628.0 416.9,1634.8 428.6,1644.1 440.3,1650.0 452.0,1656.0 463.8,1660.1 475.5,1661.6 487.2,1669.4 498.9,1671.4 510.6,1671.9 522.3,1672.7 534.0,1672.9 545.8,1674.0 557.5,1677.0 569.2,1676.7" fill="none" stroke="#939393" stroke-width="1.5" stroke-linejoin="round"/>
<circle cx="194.3" cy="1426.2" r="6.00" fill="#939393"/>
<circle cx="206.0" cy="1426.2" r="6.00" fill="#939393"/>
<circle cx="217.7" cy="1426.2" r="6.00" fill="#939393"/>
<circle cx="229.5" cy="1426.2" r="6.00" fill="#939393"/>
<circle cx="241.2" cy="1426.2" r="6.00" fill="#939393"/>
<circle cx="252.9" cy="1426.2" r="6.00" fill="#939393"/>
<circle cx="264.6" cy="1427.9" r="6.00" fill="#939393"/>
<circle cx="276.3" cy="1428.9" r="6.00" fill="#939393"/>
<circle cx="288.0" cy="1436.5" r="6.00" fill="#939393"/>
<circle cx="299.8" cy="1449.4" r="6.00" fill="#939393"/>
<circle cx="311.5" cy="1463.8" r="6.00" fill="#939393"/>
<circle cx="323.2" cy="1500.7" r="6.00" fill="#939393"/>
<circle cx="334.9" cy="1531.0" r="6.00" fill="#939393"/>
<circle cx="346.6" cy="1548.4" r="6.00" fill="#939393"/>
<circle cx="358.3" cy="1575.4" r="6.00" fill="#939393"/>
<circle cx="370.0" cy="1595.1" r="6.00" fill="#939393"/>
<circle cx="381.8" cy="1604.5" r="6.00" fill="#939393"/>
<circle cx="393.5" cy="1617.6" r="6.00" fill="#939393"/>
<circle cx="405.2" cy="1628.0" r="6.00" fill="#939393"/>
<circle cx="416.9" cy="1634.8" r="6.00" fill="#939393"/>
<circle cx="428.6" cy="1644.1" r="6.00" fill="#939393"/>
<circle cx="440.3" cy="1650.0" r="6.00" fill="#939393"/>
<circle cx="452.0" cy="1656.0" r="6.00" fill="#939393"/>
<circle cx="463.8" cy="1660.1" r="6.00" fill="#939393"/>
<circle cx="475.5" cy="1661.6" r="6.00" fill="#939393"/>
<circle cx="487.2" cy="1669.4" r="6.00" fill="#939393"/>
<circle cx="498.9" cy="1671.4" r="6.00" fill="#939393"/>
<circle cx="510.6" cy="1671.9" r="6.00" fill="#939393"/>
<circle cx="522.3" cy="1672.7" r="6.00" fill="#939393"/>
<circle cx="534.0" cy="1672.9" r="6.00" fill="#939393"/>
<circle cx="545.8" cy="1674.0" r="6.00" fill="#939393"/>
<circle cx="557.5" cy="1677.0" r="6.00" fill="#939393"/>
<circle cx="569.2" cy="1676.7" r="6.00" fill="#939393"/>
<path d="M850.9 1425.9 C852.3 1425.5 855.9 1423.8 859.6 1423.7 C863.2 1423.5 868.5 1423.9 872.7 1425.0 C876.9 1426.0 881.3 1428.0 884.7 1430.3 C888.2 1432.5 890.8 1435.3 893.6 1438.5 C896.5 1441.6 899.2 1445.2 901.9 1449.0 C904.5 1452.8 907.2 1457.0 909.8 1461.4 C912.4 1465.8 914.9 1470.5 917.3 1475.2 C919.8 1479.9 922.0 1484.7 924.5 1489.5 C926.9 1494.3 929.3 1498.8 931.8 1504.0 C934.4 1509.1 937.1 1514.8 939.8 1520.6 C942.5 1526.4 945.3 1533.0 948.0 1538.8 C950.7 1544.6 953.5 1550.2 956.2 1555.2 C958.9 1560.3 961.4 1564.7 964.1 1569.1 C966.7 1573.5 969.2 1577.5 972.1 1581.8 C975.1 1586.0 978.4 1590.4 981.6 1594.6 C984.9 1598.8 988.3 1603.1 991.6 1607.0 C994.8 1610.9 997.9 1614.4 1001.2 1617.8 C1004.5 1621.2 1007.8 1624.5 1011.2 1627.6 C1014.5 1630.7 1018.0 1633.8 1021.5 1636.5 C1024.9 1639.2 1028.3 1641.6 1031.8 1643.8 C1035.2 1646.0 1038.6 1647.9 1042.1 1649.6 C1045.5 1651.4 1049.0 1652.9 1052.4 1654.4 C1055.8 1655.8 1059.3 1657.1 1062.7 1658.4 C1066.1 1659.6 1068.9 1660.6 1072.5 1661.6 C1076.2 1662.7 1080.0 1663.7 1084.5 1664.6 C1089.0 1665.5 1095.0 1666.6 1099.5 1667.3 C1104.0 1668.0 1108.2 1668.4 1111.5 1668.8 C1114.9 1669.2 1118.1 1669.5 1119.4 1669.7 L1119.4 1681.8 C1116.1 1681.8 1106.2 1681.8 1099.8 1681.8 C1093.5 1681.8 1087.0 1681.8 1081.2 1681.7 C1075.4 1681.6 1069.6 1681.4 1064.8 1681.2 C1060.0 1680.9 1056.2 1680.6 1052.4 1680.2 C1048.6 1679.8 1045.5 1679.4 1042.1 1678.9 C1038.6 1678.4 1035.2 1677.8 1031.8 1677.0 C1028.3 1676.3 1024.9 1675.5 1021.5 1674.5 C1018.0 1673.4 1014.6 1672.2 1011.2 1670.7 C1007.7 1669.3 1004.3 1667.6 1000.8 1665.6 C997.4 1663.7 994.0 1661.5 990.5 1659.1 C987.1 1656.7 983.7 1654.0 980.2 1651.2 C976.8 1648.3 973.2 1645.2 969.9 1641.9 C966.6 1638.6 963.2 1635.2 960.3 1631.5 C957.4 1627.7 954.9 1623.9 952.3 1619.3 C949.7 1614.8 947.5 1609.9 944.7 1604.3 C941.9 1598.7 938.8 1592.5 935.6 1585.8 C932.4 1579.1 928.6 1571.4 925.5 1564.1 C922.4 1556.7 919.4 1548.7 916.8 1541.7 C914.3 1534.7 912.5 1528.2 910.3 1522.0 C908.1 1515.8 906.0 1510.2 903.5 1504.5 C901.0 1498.9 898.2 1493.4 895.4 1488.0 C892.6 1482.7 889.5 1477.2 886.6 1472.2 C883.7 1467.2 880.7 1462.2 878.1 1458.2 C875.4 1454.2 873.2 1451.1 870.8 1448.2 C868.4 1445.3 866.2 1443.3 863.7 1441.0 C861.1 1438.7 856.9 1435.6 855.6 1434.5Z" fill="#b9b9b9"/>
<polyline points="792.3,1426.2 804.0,1426.2 815.7,1426.7 827.5,1426.7 839.2,1427.2 850.9,1427.9 862.6,1431.2 874.3,1437.8 886.0,1450.7 897.8,1468.8 909.5,1492.3 921.2,1518.6 932.9,1545.1 944.6,1569.6 956.3,1591.6 968.0,1609.8 979.8,1624.7 991.5,1637.1 1003.2,1646.2 1014.9,1653.5 1026.6,1658.8 1038.3,1663.3 1050.0,1667.1 1061.8,1669.7 1073.5,1671.9 1085.2,1673.4 1096.9,1674.2 1108.6,1675.5 1120.3,1676.0 1132.0,1676.5 1143.8,1677.0 1155.5,1677.5 1167.2,1677.5" fill="none" stroke="#000" stroke-width="1.8" stroke-linejoin="round"/>
<circle cx="792.3" cy="1426.2" r="5.40" fill="#fff" stroke="#000" stroke-width="1.9"/>
<circle cx="804.0" cy="1426.2" r="5.40" fill="#fff" stroke="#000" stroke-width="1.9"/>
<circle cx="815.7" cy="1426.7" r="5.40" fill="#fff" stroke="#000" stroke-width="1.9"/>
<circle cx="827.5" cy="1426.7" r="5.40" fill="#fff" stroke="#000" stroke-width="1.9"/>
<circle cx="839.2" cy="1427.2" r="5.40" fill="#fff" stroke="#000" stroke-width="1.9"/>
<circle cx="850.9" cy="1427.9" r="5.40" fill="#fff" stroke="#000" stroke-width="1.9"/>
<circle cx="862.6" cy="1431.2" r="5.40" fill="#fff" stroke="#000" stroke-width="1.9"/>
<circle cx="874.3" cy="1437.8" r="5.40" fill="#fff" stroke="#000" stroke-width="1.9"/>
<circle cx="886.0" cy="1450.7" r="5.40" fill="#fff" stroke="#000" stroke-width="1.9"/>
<circle cx="897.8" cy="1468.8" r="5.40" fill="#fff" stroke="#000" stroke-width="1.9"/>
<circle cx="909.5" cy="1492.3" r="5.40" fill="#fff" stroke="#000" stroke-width="1.9"/>
<circle cx="921.2" cy="1518.6" r="5.40" fill="#fff" stroke="#000" stroke-width="1.9"/>
<circle cx="932.9" cy="1545.1" r="5.40" fill="#fff" stroke="#000" stroke-width="1.9"/>
<circle cx="944.6" cy="1569.6" r="5.40" fill="#fff" stroke="#000" stroke-width="1.9"/>
<circle cx="956.3" cy="1591.6" r="5.40" fill="#fff" stroke="#000" stroke-width="1.9"/>
<circle cx="968.0" cy="1609.8" r="5.40" fill="#fff" stroke="#000" stroke-width="1.9"/>
<circle cx="979.8" cy="1624.7" r="5.40" fill="#fff" stroke="#000" stroke-width="1.9"/>
<circle cx="991.5" cy="1637.1" r="5.40" fill="#fff" stroke="#000" stroke-width="1.9"/>
<circle cx="1003.2" cy="1646.2" r="5.40" fill="#fff" stroke="#000" stroke-width="1.9"/>
<circle cx="1014.9" cy="1653.5" r="5.40" fill="#fff" stroke="#000" stroke-width="1.9"/>
<circle cx="1026.6" cy="1658.8" r="5.40" fill="#fff" stroke="#000" stroke-width="1.9"/>
<circle cx="1038.3" cy="1663.3" r="5.40" fill="#fff" stroke="#000" stroke-width="1.9"/>
<circle cx="1050.0" cy="1667.1" r="5.40" fill="#fff" stroke="#000" stroke-width="1.9"/>
<circle cx="1061.8" cy="1669.7" r="5.40" fill="#fff" stroke="#000" stroke-width="1.9"/>
<circle cx="1073.5" cy="1671.9" r="5.40" fill="#fff" stroke="#000" stroke-width="1.9"/>
<circle cx="1085.2" cy="1673.4" r="5.40" fill="#fff" stroke="#000" stroke-width="1.9"/>
<circle cx="1096.9" cy="1674.2" r="5.40" fill="#fff" stroke="#000" stroke-width="1.9"/>
<circle cx="1108.6" cy="1675.5" r="5.40" fill="#fff" stroke="#000" stroke-width="1.9"/>
<circle cx="1120.3" cy="1676.0" r="5.40" fill="#fff" stroke="#000" stroke-width="1.9"/>
<circle cx="1132.0" cy="1676.5" r="5.40" fill="#fff" stroke="#000" stroke-width="1.9"/>
<circle cx="1143.8" cy="1677.0" r="5.40" fill="#fff" stroke="#000" stroke-width="1.9"/>
<circle cx="1155.5" cy="1677.5" r="5.40" fill="#fff" stroke="#000" stroke-width="1.9"/>
<circle cx="1167.2" cy="1677.5" r="5.40" fill="#fff" stroke="#000" stroke-width="1.9"/>
<path d="M254.1 1860.9 C255.5 1860.5 259.1 1858.9 262.8 1858.7 C266.4 1858.5 271.7 1858.9 275.9 1860.0 C280.1 1861.0 284.5 1863.0 287.9 1865.2 C291.4 1867.5 294.0 1870.3 296.8 1873.4 C299.7 1876.6 302.4 1880.2 305.1 1884.0 C307.7 1887.8 310.4 1892.0 313.0 1896.3 C315.6 1900.7 318.1 1905.4 320.5 1910.1 C323.0 1914.8 325.2 1919.6 327.7 1924.4 C330.1 1929.1 332.5 1933.6 335.0 1938.8 C337.6 1944.0 340.3 1949.6 343.0 1955.4 C345.7 1961.2 348.5 1967.8 351.2 1973.6 C353.9 1979.3 356.7 1984.9 359.4 1990.0 C362.1 1995.0 364.6 1999.4 367.3 2003.8 C369.9 2008.3 372.4 2012.2 375.3 2016.4 C378.3 2020.7 381.6 2025.0 384.8 2029.2 C388.1 2033.4 391.5 2037.8 394.8 2041.7 C398.0 2045.5 401.1 2049.0 404.4 2052.4 C407.7 2055.9 411.0 2059.1 414.4 2062.2 C417.7 2065.3 421.2 2068.4 424.7 2071.1 C428.1 2073.8 431.5 2076.2 435.0 2078.4 C438.4 2080.6 441.8 2082.4 445.3 2084.2 C448.7 2086.0 452.2 2087.5 455.6 2088.9 C459.0 2090.4 462.5 2091.7 465.9 2092.9 C469.3 2094.1 472.1 2095.1 475.7 2096.2 C479.4 2097.2 483.2 2098.2 487.7 2099.1 C492.2 2100.1 498.2 2101.1 502.7 2101.8 C507.2 2102.5 511.4 2103.0 514.7 2103.4 C518.1 2103.8 521.3 2104.0 522.6 2104.2 L522.6 2116.3 C519.3 2116.3 509.4 2116.3 503.0 2116.3 C496.7 2116.3 490.2 2116.3 484.4 2116.2 C478.6 2116.0 472.8 2115.9 468.0 2115.6 C463.2 2115.4 459.4 2115.1 455.6 2114.7 C451.8 2114.3 448.7 2113.9 445.3 2113.4 C441.8 2112.9 438.4 2112.3 435.0 2111.6 C431.5 2110.8 428.1 2110.0 424.7 2109.0 C421.2 2107.9 417.8 2106.7 414.4 2105.2 C410.9 2103.8 407.5 2102.1 404.0 2100.1 C400.6 2098.2 397.2 2096.1 393.7 2093.7 C390.3 2091.2 386.9 2088.6 383.4 2085.7 C380.0 2082.8 376.4 2079.7 373.1 2076.4 C369.8 2073.2 366.4 2069.8 363.5 2066.0 C360.6 2062.3 358.1 2058.5 355.5 2053.9 C352.9 2049.4 350.7 2044.5 347.9 2038.9 C345.1 2033.4 342.0 2027.2 338.8 2020.5 C335.6 2013.8 331.8 2006.1 328.7 1998.8 C325.6 1991.5 322.6 1983.5 320.0 1976.5 C317.5 1969.5 315.7 1963.0 313.5 1956.8 C311.3 1950.6 309.2 1945.0 306.7 1939.4 C304.2 1933.7 301.4 1928.3 298.6 1922.9 C295.8 1917.5 292.7 1912.1 289.8 1907.1 C286.9 1902.1 283.9 1897.1 281.3 1893.1 C278.6 1889.1 276.4 1886.0 274.0 1883.1 C271.6 1880.3 269.4 1878.2 266.9 1876.0 C264.3 1873.7 260.1 1870.6 258.8 1869.5Z" fill="#b9b9b9"/>
<polyline points="195.5,1861.2 207.2,1861.2 218.9,1861.7 230.7,1861.7 242.4,1862.2 254.1,1862.9 265.8,1866.2 277.5,1872.7 289.2,1885.6 300.9,1903.8 312.7,1927.2 324.4,1953.4 336.1,1979.9 347.8,2004.3 359.5,2026.3 371.2,2044.4 383.0,2059.3 394.7,2071.7 406.4,2080.7 418.1,2088.0 429.8,2093.3 441.5,2097.9 453.2,2101.7 465.0,2104.2 476.7,2106.4 488.4,2108.0 500.1,2108.7 511.8,2110.0 523.5,2110.5 535.2,2111.0 547.0,2111.5 558.7,2112.0 570.4,2112.0" fill="none" stroke="#000" stroke-width="1.8" stroke-linejoin="round"/>
<circle cx="195.5" cy="1861.2" r="5.40" fill="#fff" stroke="#000" stroke-width="1.9"/>
<circle cx="207.2" cy="1861.2" r="5.40" fill="#fff" stroke="#000" stroke-width="1.9"/>
<circle cx="218.9" cy="1861.7" r="5.40" fill="#fff" stroke="#000" stroke-width="1.9"/>
<circle cx="230.7" cy="1861.7" r="5.40" fill="#fff" stroke="#000" stroke-width="1.9"/>
<circle cx="242.4" cy="1862.2" r="5.40" fill="#fff" stroke="#000" stroke-width="1.9"/>
<circle cx="254.1" cy="1862.9" r="5.40" fill="#fff" stroke="#000" stroke-width="1.9"/>
<circle cx="265.8" cy="1866.2" r="5.40" fill="#fff" stroke="#000" stroke-width="1.9"/>
<circle cx="277.5" cy="1872.7" r="5.40" fill="#fff" stroke="#000" stroke-width="1.9"/>
<circle cx="289.2" cy="1885.6" r="5.40" fill="#fff" stroke="#000" stroke-width="1.9"/>
<circle cx="300.9" cy="1903.8" r="5.40" fill="#fff" stroke="#000" stroke-width="1.9"/>
<circle cx="312.7" cy="1927.2" r="5.40" fill="#fff" stroke="#000" stroke-width="1.9"/>
<circle cx="324.4" cy="1953.4" r="5.40" fill="#fff" stroke="#000" stroke-width="1.9"/>
<circle cx="336.1" cy="1979.9" r="5.40" fill="#fff" stroke="#000" stroke-width="1.9"/>
<circle cx="347.8" cy="2004.3" r="5.40" fill="#fff" stroke="#000" stroke-width="1.9"/>
<circle cx="359.5" cy="2026.3" r="5.40" fill="#fff" stroke="#000" stroke-width="1.9"/>
<circle cx="371.2" cy="2044.4" r="5.40" fill="#fff" stroke="#000" stroke-width="1.9"/>
<circle cx="383.0" cy="2059.3" r="5.40" fill="#fff" stroke="#000" stroke-width="1.9"/>
<circle cx="394.7" cy="2071.7" r="5.40" fill="#fff" stroke="#000" stroke-width="1.9"/>
<circle cx="406.4" cy="2080.7" r="5.40" fill="#fff" stroke="#000" stroke-width="1.9"/>
<circle cx="418.1" cy="2088.0" r="5.40" fill="#fff" stroke="#000" stroke-width="1.9"/>
<circle cx="429.8" cy="2093.3" r="5.40" fill="#fff" stroke="#000" stroke-width="1.9"/>
<circle cx="441.5" cy="2097.9" r="5.40" fill="#fff" stroke="#000" stroke-width="1.9"/>
<circle cx="453.2" cy="2101.7" r="5.40" fill="#fff" stroke="#000" stroke-width="1.9"/>
<circle cx="465.0" cy="2104.2" r="5.40" fill="#fff" stroke="#000" stroke-width="1.9"/>
<circle cx="476.7" cy="2106.4" r="5.40" fill="#fff" stroke="#000" stroke-width="1.9"/>
<circle cx="488.4" cy="2108.0" r="5.40" fill="#fff" stroke="#000" stroke-width="1.9"/>
<circle cx="500.1" cy="2108.7" r="5.40" fill="#fff" stroke="#000" stroke-width="1.9"/>
<circle cx="511.8" cy="2110.0" r="5.40" fill="#fff" stroke="#000" stroke-width="1.9"/>
<circle cx="523.5" cy="2110.5" r="5.40" fill="#fff" stroke="#000" stroke-width="1.9"/>
<circle cx="535.2" cy="2111.0" r="5.40" fill="#fff" stroke="#000" stroke-width="1.9"/>
<circle cx="547.0" cy="2111.5" r="5.40" fill="#fff" stroke="#000" stroke-width="1.9"/>
<circle cx="558.7" cy="2112.0" r="5.40" fill="#fff" stroke="#000" stroke-width="1.9"/>
<circle cx="570.4" cy="2112.0" r="5.40" fill="#fff" stroke="#000" stroke-width="1.9"/>
<polyline points="195.5,1860.9 207.2,1860.9 218.9,1860.9 230.7,1860.9 242.4,1860.9 254.1,1864.9 265.8,1870.5 277.5,1874.3 289.2,1885.1 300.9,1898.0 312.7,1914.8 324.4,1932.2 336.1,1949.9 347.8,1967.3 359.5,1988.5 371.2,2004.1 383.0,2015.9 394.7,2031.6 406.4,2046.7 418.1,2056.0 429.8,2075.9 441.5,2090.1 453.2,2094.8 465.0,2098.6 476.7,2102.2 488.4,2108.2 500.1,2108.7 511.8,2110.0 523.5,2110.5 535.2,2110.7 547.0,2110.7 558.7,2110.7 570.4,2111.2" fill="none" stroke="#000" stroke-width="1.8" stroke-linejoin="round"/>
<circle cx="195.5" cy="1860.9" r="5.60" fill="#000"/>
<circle cx="207.2" cy="1860.9" r="5.60" fill="#000"/>
<circle cx="218.9" cy="1860.9" r="5.60" fill="#000"/>
<circle cx="230.7" cy="1860.9" r="5.60" fill="#000"/>
<circle cx="242.4" cy="1860.9" r="5.60" fill="#000"/>
<circle cx="254.1" cy="1864.9" r="5.60" fill="#000"/>
<circle cx="265.8" cy="1870.5" r="5.60" fill="#000"/>
<circle cx="277.5" cy="1874.3" r="5.60" fill="#000"/>
<circle cx="289.2" cy="1885.1" r="5.60" fill="#000"/>
<circle cx="300.9" cy="1898.0" r="5.60" fill="#000"/>
<circle cx="312.7" cy="1914.8" r="5.60" fill="#000"/>
<circle cx="324.4" cy="1932.2" r="5.60" fill="#000"/>
<circle cx="336.1" cy="1949.9" r="5.60" fill="#000"/>
<circle cx="347.8" cy="1967.3" r="6.10" fill="#b52a2f"/>
<circle cx="359.5" cy="1988.5" r="6.10" fill="#b52a2f"/>
<circle cx="371.2" cy="2004.1" r="6.10" fill="#b52a2f"/>
<circle cx="383.0" cy="2015.9" r="6.10" fill="#b52a2f"/>
<circle cx="394.7" cy="2031.6" r="6.10" fill="#b52a2f"/>
<circle cx="406.4" cy="2046.7" r="6.10" fill="#b52a2f"/>
<circle cx="418.1" cy="2056.0" r="6.10" fill="#b52a2f"/>
<circle cx="429.8" cy="2075.9" r="5.60" fill="#000"/>
<circle cx="441.5" cy="2090.1" r="5.60" fill="#000"/>
<circle cx="453.2" cy="2094.8" r="5.60" fill="#000"/>
<circle cx="465.0" cy="2098.6" r="5.60" fill="#000"/>
<circle cx="476.7" cy="2102.2" r="5.60" fill="#000"/>
<circle cx="488.4" cy="2108.2" r="5.60" fill="#000"/>
<circle cx="500.1" cy="2108.7" r="5.60" fill="#000"/>
<circle cx="511.8" cy="2110.0" r="5.60" fill="#000"/>
<circle cx="523.5" cy="2110.5" r="5.60" fill="#000"/>
<circle cx="535.2" cy="2110.7" r="5.60" fill="#000"/>
<circle cx="547.0" cy="2110.7" r="5.60" fill="#000"/>
<circle cx="558.7" cy="2110.7" r="5.60" fill="#000"/>
<circle cx="570.4" cy="2111.2" r="5.60" fill="#000"/>
<path d="M0 0 L-4.60 -17.20 L4.60 -17.20 Z" transform="translate(353.2,1961.7) rotate(31)" fill="#ffffff" stroke="#231f20" stroke-width="2.1" stroke-linejoin="miter"/>
<path d="M0 0 L-4.60 -17.20 L4.60 -17.20 Z" transform="translate(364.9,1982.9) rotate(31)" fill="#ffffff" stroke="#231f20" stroke-width="2.1" stroke-linejoin="miter"/>
<path d="M0 0 L-4.60 -17.20 L4.60 -17.20 Z" transform="translate(376.6,1998.5) rotate(31)" fill="#ffffff" stroke="#231f20" stroke-width="2.1" stroke-linejoin="miter"/>
<path d="M0 0 L-4.60 -17.20 L4.60 -17.20 Z" transform="translate(388.4,2010.3) rotate(31)" fill="#76767a" stroke="#231f20" stroke-width="2.1" stroke-linejoin="miter"/>
<path d="M0 0 L-4.60 -17.20 L4.60 -17.20 Z" transform="translate(400.1,2026.0) rotate(31)" fill="#76767a" stroke="#231f20" stroke-width="2.1" stroke-linejoin="miter"/>
<path d="M0 0 L-4.60 -17.20 L4.60 -17.20 Z" transform="translate(411.8,2041.1) rotate(31)" fill="#76767a" stroke="#231f20" stroke-width="2.1" stroke-linejoin="miter"/>
<path d="M0 0 L-4.60 -17.20 L4.60 -17.20 Z" transform="translate(423.5,2050.4) rotate(31)" fill="#76767a" stroke="#231f20" stroke-width="2.1" stroke-linejoin="miter"/>
<rect x="411.3" y="1871.1" width="147.6" height="81.4" fill="#fff" stroke="#000" stroke-width="2.1"/>
<text transform="translate(437.84,1900.5) scale(1.0316,1)" font-size="23.2" font-weight="normal" font-style="normal" fill="#000">p &lt; 0.05</text>
<path d="M0 0 L-5.4 -19.2 L5.4 -19.2 Z" transform="translate(542.4,1903.5)" fill="#ffffff" stroke="#231f20" stroke-width="1.9"/>
<text transform="translate(424.14,1938.3) scale(1.0360,1)" font-size="23.2" font-weight="normal" font-style="normal" fill="#000">p &lt; 0.005</text>
<path d="M0 0 L-5.4 -19.2 L5.4 -19.2 Z" transform="translate(542.4,1940.8)" fill="#76767a" stroke="#231f20" stroke-width="1.9"/>
<path d="M291.6 2253.2 C292.7 2253.1 295.3 2252.3 298.3 2252.6 C301.2 2252.9 305.8 2253.7 309.5 2254.9 C313.2 2256.2 317.3 2258.0 320.5 2260.1 C323.8 2262.1 326.3 2264.5 328.9 2267.3 C331.6 2270.1 334.0 2273.3 336.4 2276.6 C338.8 2279.9 341.1 2283.7 343.4 2287.2 C345.6 2290.7 347.7 2294.2 349.8 2297.8 C351.9 2301.4 354.0 2304.9 356.1 2308.8 C358.3 2312.7 360.4 2317.1 362.6 2321.3 C364.7 2325.6 367.0 2330.2 369.1 2334.5 C371.3 2338.8 373.4 2343.0 375.5 2347.2 C377.5 2351.3 379.4 2355.3 381.5 2359.5 C383.7 2363.7 385.8 2368.0 388.5 2372.5 C391.1 2377.0 394.2 2381.8 397.2 2386.5 C400.3 2391.1 403.8 2395.9 406.9 2400.4 C409.9 2404.9 412.9 2409.3 415.8 2413.4 C418.6 2417.5 421.3 2421.3 424.1 2425.0 C426.8 2428.7 429.4 2432.0 432.3 2435.6 C435.1 2439.1 438.1 2442.7 441.2 2446.2 C444.2 2449.7 447.4 2453.5 450.7 2456.7 C453.9 2460.0 457.1 2463.2 460.5 2465.9 C464.0 2468.7 467.8 2471.1 471.4 2473.1 C475.0 2475.1 478.8 2476.6 482.3 2477.9 C485.8 2479.2 489.2 2480.2 492.6 2481.2 C496.0 2482.2 499.6 2483.2 502.9 2484.0 C506.2 2484.8 509.1 2485.5 512.3 2486.1 C515.5 2486.8 518.2 2487.2 522.0 2487.8 C525.8 2488.5 530.4 2489.3 534.9 2490.0 C539.4 2490.7 544.4 2491.6 548.7 2492.2 C553.1 2492.8 559.0 2493.5 561.0 2493.8 L561.0 2507.1 C557.2 2507.0 544.8 2506.6 537.8 2506.3 C530.9 2506.0 525.0 2505.6 519.4 2505.1 C513.9 2504.6 509.0 2504.0 504.6 2503.5 C500.1 2502.9 496.3 2502.4 492.6 2501.8 C488.9 2501.3 485.7 2500.8 482.3 2500.1 C478.9 2499.4 475.4 2498.6 472.0 2497.6 C468.6 2496.7 465.1 2495.6 461.7 2494.3 C458.2 2493.1 454.8 2491.7 451.4 2490.2 C447.9 2488.6 444.5 2486.9 441.1 2485.0 C437.6 2483.1 434.2 2481.0 430.8 2478.6 C427.3 2476.1 423.9 2473.4 420.4 2470.3 C417.0 2467.3 413.4 2463.9 410.0 2460.4 C406.6 2456.9 403.3 2453.3 400.1 2449.2 C396.8 2445.1 393.9 2440.9 390.7 2435.8 C387.5 2430.7 384.0 2424.7 380.7 2418.5 C377.5 2412.3 373.9 2405.0 371.1 2398.9 C368.3 2392.7 366.1 2386.6 364.0 2381.4 C361.9 2376.3 360.4 2372.2 358.6 2368.0 C356.8 2363.8 354.9 2360.2 353.0 2356.2 C351.0 2352.1 349.0 2348.1 346.8 2343.7 C344.5 2339.3 342.3 2334.8 339.7 2330.0 C337.2 2325.2 334.4 2320.1 331.5 2315.0 C328.7 2309.9 325.5 2304.3 322.6 2299.4 C319.7 2294.4 316.7 2289.4 314.1 2285.4 C311.4 2281.4 309.2 2278.3 306.8 2275.4 C304.4 2272.6 302.2 2270.5 299.7 2268.3 C297.1 2266.0 292.9 2262.8 291.6 2261.8Z" fill="#b9b9b9"/>
<polyline points="195.5,2253.2 207.2,2253.2 218.9,2253.2 230.7,2253.2 242.4,2253.2 254.1,2253.2 265.8,2253.2 277.5,2253.2 289.2,2254.0 300.9,2258.7 312.7,2266.8 324.4,2280.7 336.1,2299.0 347.8,2322.0 359.5,2346.4 371.2,2370.6 383.0,2393.8 394.7,2414.7 406.4,2432.0 418.1,2446.7 429.8,2458.5 441.5,2468.8 453.2,2476.1 465.0,2482.2 476.7,2486.7 488.4,2490.5 500.1,2494.0 511.8,2497.3 523.5,2499.1 535.2,2501.1 547.0,2502.3 558.7,2502.8 570.4,2503.8" fill="none" stroke="#000" stroke-width="1.8" stroke-linejoin="round"/>
<circle cx="195.5" cy="2253.2" r="5.40" fill="#fff" stroke="#000" stroke-width="1.9"/>
<circle cx="207.2" cy="2253.2" r="5.40" fill="#fff" stroke="#000" stroke-width="1.9"/>
<circle cx="218.9" cy="2253.2" r="5.40" fill="#fff" stroke="#000" stroke-width="1.9"/>
<circle cx="230.7" cy="2253.2" r="5.40" fill="#fff" stroke="#000" stroke-width="1.9"/>
<circle cx="242.4" cy="2253.2" r="5.40" fill="#fff" stroke="#000" stroke-width="1.9"/>
<circle cx="254.1" cy="2253.2" r="5.40" fill="#fff" stroke="#000" stroke-width="1.9"/>
<circle cx="265.8" cy="2253.2" r="5.40" fill="#fff" stroke="#000" stroke-width="1.9"/>
<circle cx="277.5" cy="2253.2" r="5.40" fill="#fff" stroke="#000" stroke-width="1.9"/>
<circle cx="289.2" cy="2254.0" r="5.40" fill="#fff" stroke="#000" stroke-width="1.9"/>
<circle cx="300.9" cy="2258.7" r="5.40" fill="#fff" stroke="#000" stroke-width="1.9"/>
<circle cx="312.7" cy="2266.8" r="5.40" fill="#fff" stroke="#000" stroke-width="1.9"/>
<circle cx="324.4" cy="2280.7" r="5.40" fill="#fff" stroke="#000" stroke-width="1.9"/>
<circle cx="336.1" cy="2299.0" r="5.40" fill="#fff" stroke="#000" stroke-width="1.9"/>
<circle cx="347.8" cy="2322.0" r="5.40" fill="#fff" stroke="#000" stroke-width="1.9"/>
<circle cx="359.5" cy="2346.4" r="5.40" fill="#fff" stroke="#000" stroke-width="1.9"/>
<circle cx="371.2" cy="2370.6" r="5.40" fill="#fff" stroke="#000" stroke-width="1.9"/>
<circle cx="383.0" cy="2393.8" r="5.40" fill="#fff" stroke="#000" stroke-width="1.9"/>
<circle cx="394.7" cy="2414.7" r="5.40" fill="#fff" stroke="#000" stroke-width="1.9"/>
<circle cx="406.4" cy="2432.0" r="5.40" fill="#fff" stroke="#000" stroke-width="1.9"/>
<circle cx="418.1" cy="2446.7" r="5.40" fill="#fff" stroke="#000" stroke-width="1.9"/>
<circle cx="429.8" cy="2458.5" r="5.40" fill="#fff" stroke="#000" stroke-width="1.9"/>
<circle cx="441.5" cy="2468.8" r="5.40" fill="#fff" stroke="#000" stroke-width="1.9"/>
<circle cx="453.2" cy="2476.1" r="5.40" fill="#fff" stroke="#000" stroke-width="1.9"/>
<circle cx="465.0" cy="2482.2" r="5.40" fill="#fff" stroke="#000" stroke-width="1.9"/>
<circle cx="476.7" cy="2486.7" r="5.40" fill="#fff" stroke="#000" stroke-width="1.9"/>
<circle cx="488.4" cy="2490.5" r="5.40" fill="#fff" stroke="#000" stroke-width="1.9"/>
<circle cx="500.1" cy="2494.0" r="5.40" fill="#fff" stroke="#000" stroke-width="1.9"/>
<circle cx="511.8" cy="2497.3" r="5.40" fill="#fff" stroke="#000" stroke-width="1.9"/>
<circle cx="523.5" cy="2499.1" r="5.40" fill="#fff" stroke="#000" stroke-width="1.9"/>
<circle cx="535.2" cy="2501.1" r="5.40" fill="#fff" stroke="#000" stroke-width="1.9"/>
<circle cx="547.0" cy="2502.3" r="5.40" fill="#fff" stroke="#000" stroke-width="1.9"/>
<circle cx="558.7" cy="2502.8" r="5.40" fill="#fff" stroke="#000" stroke-width="1.9"/>
<circle cx="570.4" cy="2503.8" r="5.40" fill="#fff" stroke="#000" stroke-width="1.9"/>
<polyline points="195.5,2253.2 207.2,2253.2 218.9,2253.2 230.7,2253.2 242.4,2253.2 254.1,2253.2 265.8,2253.2 277.5,2254.0 289.2,2259.5 300.9,2266.8 312.7,2280.4 324.4,2295.5 336.1,2323.5 347.8,2335.6 359.5,2347.9 371.2,2359.8 383.0,2369.1 394.7,2382.4 406.4,2396.5 418.1,2410.4 429.8,2427.3 441.5,2437.3 453.2,2447.4 465.0,2463.3 476.7,2471.3 488.4,2474.6 500.1,2479.9 511.8,2486.7 523.5,2491.0 535.2,2492.8 547.0,2495.8 558.7,2497.8 570.4,2500.1" fill="none" stroke="#000" stroke-width="1.8" stroke-linejoin="round"/>
<circle cx="195.5" cy="2253.2" r="5.60" fill="#000"/>
<circle cx="207.2" cy="2253.2" r="5.60" fill="#000"/>
<circle cx="218.9" cy="2253.2" r="5.60" fill="#000"/>
<circle cx="230.7" cy="2253.2" r="5.60" fill="#000"/>
<circle cx="242.4" cy="2253.2" r="5.60" fill="#000"/>
<circle cx="254.1" cy="2253.2" r="5.60" fill="#000"/>
<circle cx="265.8" cy="2253.2" r="5.60" fill="#000"/>
<circle cx="277.5" cy="2254.0" r="5.60" fill="#000"/>
<circle cx="289.2" cy="2259.5" r="5.60" fill="#000"/>
<circle cx="300.9" cy="2266.8" r="5.60" fill="#000"/>
<circle cx="312.7" cy="2280.4" r="5.60" fill="#000"/>
<circle cx="324.4" cy="2295.5" r="5.60" fill="#000"/>
<circle cx="336.1" cy="2323.5" r="5.60" fill="#000"/>
<circle cx="347.8" cy="2335.6" r="5.60" fill="#000"/>
<circle cx="359.5" cy="2347.9" r="5.60" fill="#000"/>
<circle cx="371.2" cy="2359.8" r="5.60" fill="#000"/>
<circle cx="383.0" cy="2369.1" r="5.60" fill="#000"/>
<circle cx="394.7" cy="2382.4" r="6.10" fill="#b52a2f"/>
<circle cx="406.4" cy="2396.5" r="6.10" fill="#b52a2f"/>
<circle cx="418.1" cy="2410.4" r="6.10" fill="#b52a2f"/>
<circle cx="429.8" cy="2427.3" r="6.10" fill="#b52a2f"/>
<circle cx="441.5" cy="2437.3" r="6.10" fill="#b52a2f"/>
<circle cx="453.2" cy="2447.4" r="6.10" fill="#b52a2f"/>
<circle cx="465.0" cy="2463.3" r="6.10" fill="#b52a2f"/>
<circle cx="476.7" cy="2471.3" r="6.10" fill="#b52a2f"/>
<circle cx="488.4" cy="2474.6" r="6.10" fill="#b52a2f"/>
<circle cx="500.1" cy="2479.9" r="6.10" fill="#b52a2f"/>
<circle cx="511.8" cy="2486.7" r="5.60" fill="#000"/>
<circle cx="523.5" cy="2491.0" r="5.60" fill="#000"/>
<circle cx="535.2" cy="2492.8" r="5.60" fill="#000"/>
<circle cx="547.0" cy="2495.8" r="5.60" fill="#000"/>
<circle cx="558.7" cy="2497.8" r="5.60" fill="#000"/>
<circle cx="570.4" cy="2500.1" r="5.60" fill="#000"/>
<path d="M0 0 L-4.60 -17.20 L4.60 -17.20 Z" transform="translate(400.1,2376.8) rotate(31)" fill="#ffffff" stroke="#231f20" stroke-width="2.1" stroke-linejoin="miter"/>
<path d="M0 0 L-4.60 -17.20 L4.60 -17.20 Z" transform="translate(411.8,2390.9) rotate(31)" fill="#ffffff" stroke="#231f20" stroke-width="2.1" stroke-linejoin="miter"/>
<path d="M0 0 L-4.60 -17.20 L4.60 -17.20 Z" transform="translate(423.5,2404.8) rotate(31)" fill="#b4b4ba" stroke="#231f20" stroke-width="2.1" stroke-linejoin="miter"/>
<path d="M0 0 L-4.60 -17.20 L4.60 -17.20 Z" transform="translate(435.2,2421.7) rotate(31)" fill="#b4b4ba" stroke="#231f20" stroke-width="2.1" stroke-linejoin="miter"/>
<path d="M0 0 L-4.60 -17.20 L4.60 -17.20 Z" transform="translate(446.9,2431.7) rotate(31)" fill="#b4b4ba" stroke="#231f20" stroke-width="2.1" stroke-linejoin="miter"/>
<path d="M0 0 L-4.60 -17.20 L4.60 -17.20 Z" transform="translate(458.6,2441.8) rotate(31)" fill="#b4b4ba" stroke="#231f20" stroke-width="2.1" stroke-linejoin="miter"/>
<path d="M0 0 L-4.60 -17.20 L4.60 -17.20 Z" transform="translate(470.4,2457.7) rotate(31)" fill="#ffffff" stroke="#231f20" stroke-width="2.1" stroke-linejoin="miter"/>
<path d="M0 0 L-4.60 -17.20 L4.60 -17.20 Z" transform="translate(482.1,2465.7) rotate(31)" fill="#ffffff" stroke="#231f20" stroke-width="2.1" stroke-linejoin="miter"/>
<path d="M0 0 L-4.60 -17.20 L4.60 -17.20 Z" transform="translate(493.8,2469.0) rotate(31)" fill="#b4b4ba" stroke="#231f20" stroke-width="2.1" stroke-linejoin="miter"/>
<path d="M0 0 L-4.60 -17.20 L4.60 -17.20 Z" transform="translate(505.5,2474.3) rotate(31)" fill="#ffffff" stroke="#231f20" stroke-width="2.1" stroke-linejoin="miter"/>
<rect x="869.9" y="1904.3" width="310.3" height="461" fill="none" stroke="#000" stroke-width="2.4"/>
<path d="M869.9 2334.5h12M1180.2 2334.5h-12M869.9 2273.05h6.2M1180.2 2273.05h-6.2M869.9 2211.6h12M1180.2 2211.6h-12M869.9 2150.15h6.2M1180.2 2150.15h-6.2M869.9 2088.7h12M1180.2 2088.7h-12M869.9 2027.25h6.2M1180.2 2027.25h-6.2M869.9 1965.8h12M1180.2 1965.8h-12" fill="none" stroke="#000" stroke-width="1.9"/>
<text transform="translate(836.28,2346.5) scale(1.0000,1)" font-size="31" font-weight="normal" font-style="normal" fill="#000">0</text>
<text transform="translate(810.86,2223.6) scale(1.0000,1)" font-size="31" font-weight="normal" font-style="normal" fill="#000">0.2</text>
<text transform="translate(810.24,2100.7) scale(1.0000,1)" font-size="31" font-weight="normal" font-style="normal" fill="#000">0.4</text>
<text transform="translate(810.55,1977.8) scale(1.0000,1)" font-size="31" font-weight="normal" font-style="normal" fill="#000">0.6</text>
<text transform="translate(790,2336.47) rotate(-90) scale(1.0219,1)" font-size="38.5" font-weight="normal" font-style="normal" fill="#000">Observation probability</text>
<text transform="translate(968.41,1935.8) scale(0.9860,1)" font-size="31" font-weight="normal" font-style="normal" fill="#000">p &lt; 0.01</text>
<path d="M957.5 1962 V1949.1 H1091.4 V1962" fill="none" stroke="#000" stroke-width="2.5"/>
<line x1="958.2" y1="2007.59" x2="1091.4" y2="1979.32" stroke="#000" stroke-width="2.2" stroke-dasharray="6.5 4.5"/>
<line x1="958.2" y1="2084.4" x2="1091.4" y2="2009.43" stroke="#000" stroke-width="2.2" stroke-dasharray="6.5 4.5"/>
<line x1="958.2" y1="2088.7" x2="1091.4" y2="2030.94" stroke="#000" stroke-width="2.2" stroke-dasharray="6.5 4.5"/>
<line x1="958.2" y1="2067.81" x2="1091.4" y2="2073.95" stroke="#000" stroke-width="2.2" stroke-dasharray="6.5 4.5"/>
<line x1="958.2" y1="2091.77" x2="1091.4" y2="2083.78" stroke="#000" stroke-width="2.2" stroke-dasharray="6.5 4.5"/>
<line x1="958.2" y1="2167.97" x2="1091.4" y2="2071.49" stroke="#000" stroke-width="2.2" stroke-dasharray="6.5 4.5"/>
<line x1="958.2" y1="2321.6" x2="1091.4" y2="2287.8" stroke="#000" stroke-width="2.2" stroke-dasharray="6.5 4.5"/>
<line x1="958.2" y1="2328.36" x2="1091.4" y2="2290.26" stroke="#000" stroke-width="2.2" stroke-dasharray="6.5 4.5"/>
<line x1="958.2" y1="2330.2" x2="1091.4" y2="2306.85" stroke="#000" stroke-width="2.2" stroke-dasharray="6.5 4.5"/>
<line x1="958.2" y1="2332.04" x2="1091.4" y2="2317.91" stroke="#000" stroke-width="2.2" stroke-dasharray="6.5 4.5"/>
<line x1="958.2" y1="2334.5" x2="1091.4" y2="2333.27" stroke="#000" stroke-width="2.2" stroke-dasharray="6.5 4.5"/>
<path d="M958.2 1999.0l8.6 8.6l-8.6 8.6l-8.6 -8.6Z" fill="#000"/>
<path d="M958.2 2059.2l8.6 8.6l-8.6 8.6l-8.6 -8.6Z" fill="#000"/>
<path d="M958.2 2080.1l8.6 8.6l-8.6 8.6l-8.6 -8.6Z" fill="#000"/>
<circle cx="958.2" cy="2084.4" r="7.2" fill="#000"/>
<circle cx="958.2" cy="2091.8" r="7.2" fill="#000"/>
<circle cx="958.2" cy="2168.0" r="7.2" fill="#000"/>
<path d="M1091.4 1970.7l8.6 8.6l-8.6 8.6l-8.6 -8.6Z" fill="#000"/>
<path d="M1091.4 2022.3l8.6 8.6l-8.6 8.6l-8.6 -8.6Z" fill="#000"/>
<path d="M1091.4 2065.4l8.6 8.6l-8.6 8.6l-8.6 -8.6Z" fill="#000"/>
<circle cx="1091.4" cy="2009.4" r="7.2" fill="#000"/>
<circle cx="1091.4" cy="2069.0" r="7.2" fill="#000"/>
<circle cx="1091.4" cy="2083.8" r="7.2" fill="#000"/>
<rect x="950.8" y="2314.2" width="14.8" height="14.8" fill="none" stroke="#000" stroke-width="2.1"/>
<rect x="950.8" y="2322.8" width="14.8" height="14.8" fill="none" stroke="#000" stroke-width="2.1"/>
<rect x="950.8" y="2327.1" width="14.8" height="14.8" fill="none" stroke="#000" stroke-width="2.1"/>
<path d="M958.2 2319.4l9.5 15.0h-19.0Z" fill="none" stroke="#000" stroke-width="2.1" stroke-linejoin="miter"/>
<path d="M958.2 2322.4l9.5 15.0h-19.0Z" fill="none" stroke="#000" stroke-width="2.1" stroke-linejoin="miter"/>
<rect x="1084.0" y="2284.1" width="14.8" height="14.8" fill="none" stroke="#000" stroke-width="2.1"/>
<rect x="1084.0" y="2310.5" width="14.8" height="14.8" fill="none" stroke="#000" stroke-width="2.1"/>
<rect x="1084.0" y="2325.9" width="14.8" height="14.8" fill="none" stroke="#000" stroke-width="2.1"/>
<path d="M1091.4 2275.7l9.5 15.0h-19.0Z" fill="none" stroke="#000" stroke-width="2.1" stroke-linejoin="miter"/>
<path d="M1091.4 2299.1l9.5 15.0h-19.0Z" fill="none" stroke="#000" stroke-width="2.1" stroke-linejoin="miter"/>
<text transform="translate(859.42,2518.08) rotate(-45) scale(1.0914,1)" font-size="31" font-weight="normal" font-style="normal" fill="#000">Scrambled</text>
<text transform="translate(1018.86,2487.64) rotate(-45) scale(1.1510,1)" font-size="31" font-weight="normal" font-style="normal" fill="#000">Original</text>
<rect x="427.9" y="2264.6" width="131.2" height="80.2" fill="#fff" stroke="#000" stroke-width="2.1"/>
<text transform="translate(438.55,2294) scale(1.0267,1)" font-size="23.2" font-weight="normal" font-style="normal" fill="#000">p &lt; 0.05</text>
<path d="M0 0 L-5.4 -19.2 L5.4 -19.2 Z" transform="translate(542.4,2296.4)" fill="#ffffff" stroke="#231f20" stroke-width="1.9"/>
<text transform="translate(438.55,2331.6) scale(1.0281,1)" font-size="23.2" font-weight="normal" font-style="normal" fill="#000">p &lt; 0.01</text>
<path d="M0 0 L-5.4 -19.2 L5.4 -19.2 Z" transform="translate(542.4,2334.2)" fill="#b4b4ba" stroke="#231f20" stroke-width="1.9"/>
</svg></body></html>
